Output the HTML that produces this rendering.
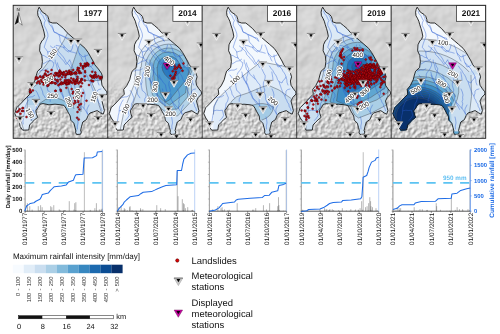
<!DOCTYPE html><html><head><meta charset="utf-8"><title>Rainfall maps</title><style>html,body{margin:0;padding:0;background:#fff;}svg{display:block;opacity:0.999;}text{text-rendering:geometricPrecision;}</style></head><body><svg width="500" height="334" viewBox="0 0 500 334" font-family='"Liberation Sans", sans-serif'>
<defs>
<path id="basin" d="M26.2,2.2 L27.4,4.2 L29.4,7.2 L33.0,9.4 L34.8,11.4 L35.8,14.4 L36.0,16.8 L39.6,18.0 L43.8,18.0 L46.8,20.4 L50.6,23.6 L54.2,27.8 L59.0,32.0 L63.2,35.6 L67.4,39.2 L72.2,43.4 L75.2,47.6 L77.6,51.8 L80.0,56.0 L81.8,59.8 L85.4,64.0 L88.4,68.2 L89.6,71.8 L88.4,76.0 L89.0,80.2 L91.4,83.8 L93.8,86.8 L94.0,89.0 L90.8,92.4 L89.0,96.0 L90.2,100.8 L91.4,105.6 L90.2,109.2 L87.8,108.0 L84.2,105.6 L80.6,106.8 L77.0,108.0 L75.2,110.4 L73.4,114.6 L69.8,117.0 L68.6,121.2 L67.6,125.6 L68.3,127.0 L67.6,129.2 L63.6,129.5 L62.5,127.2 L62.9,126.0 L62.0,122.4 L60.8,118.2 L57.8,115.2 L57.2,111.0 L54.8,106.8 L53.0,103.2 L51.0,100.4 L48.0,99.8 L42.0,99.2 L36.0,99.8 L30.0,98.6 L27.0,99.2 L25.2,102.2 L22.8,105.8 L23.4,108.8 L24.6,112.4 L21.6,114.8 L19.2,117.2 L16.6,120.0 L15.8,125.0 L9.7,125.2 L7.1,121.5 L6.2,116.5 L3.8,113.0 L1.8,108.6 L3.6,102.8 L8.4,98.0 L13.2,92.8 L16.8,89.2 L16.2,84.4 L19.2,80.8 L22.2,74.8 L23.4,70.0 L24.6,66.2 L28.6,62.6 L29.4,56.6 L28.8,50.6 L26.6,45.8 L27.0,39.8 L28.8,36.0 L30.6,34.2 L31.8,31.2 L31.0,27.0 L30.0,23.4 L28.8,19.8 L27.8,16.2 L26.4,13.2 L25.0,10.8 L24.6,7.2 L25.2,4.2Z"/>
<clipPath id="bc"><use href="#basin"/></clipPath>
<clipPath id="pc"><rect x="0" y="0" width="94.5" height="133.0"/></clipPath>
<path id="riv" d="M27.0,6.0 L28.1,8.7 L30.0,10.8 L31.1,13.3 L32.4,15.6 L31.3,17.9 L31.2,20.4 L33.0,24.0 L34.0,26.4 L34.8,28.8 L35.0,31.3 L34.2,33.6 L33.2,36.0 L32.4,38.4 L31.2,42.2 L33.1,44.5 L34.8,47.0 L35.0,50.1 L36.0,53.0 L37.5,54.7 L38.9,56.5 L40.8,57.8 L40.6,60.3 L39.6,62.6 L38.2,65.3 L36.0,67.4 L35.2,69.8 L35.3,72.3 L34.2,74.6 L34.6,77.3 L33.6,79.6 L34.1,82.6 L34.8,85.6 L36.9,87.1 L38.4,89.2 L38.5,91.7 L37.2,93.9 L37.2,96.4 M32.4,10.2 L33.6,12.3 L34.2,14.7 L35.4,16.8 L36.6,19.4 L38.4,21.6 L40.0,23.8 L40.8,26.4 L43.0,28.2 L45.6,29.4 L47.9,30.6 L50.4,31.2 L54.0,33.6 L56.4,36.0 M38.6,20.0 L39.7,22.3 L40.2,24.8 L41.0,27.2 L43.6,27.7 L45.7,29.3 L48.2,30.2 L50.4,31.6 L52.8,32.7 L55.4,33.2 L56.6,36.2 M43.4,40.4 L46.2,40.9 L48.9,42.0 L51.8,42.2 L53.8,43.8 L55.4,45.8 L57.9,46.8 L60.6,47.4 L63.2,48.2 M37.4,41.0 L39.9,43.0 L42.2,45.2 L44.0,46.9 L44.6,49.5 L46.4,51.2 L48.4,53.7 L50.6,56.0 L53.0,59.6 L54.9,57.4 L56.6,55.0 M56.6,55.0 L57.8,57.3 L58.3,59.8 L59.6,62.1 L60.2,64.6 L61.1,66.6 L62.1,68.6 L63.2,70.6 L63.1,73.1 L62.4,75.5 L61.4,77.8 L61.3,80.3 L62.0,82.7 L62.8,85.0 L62.2,87.6 L63.5,89.9 L63.4,92.4 L63.8,94.8 L65.1,97.1 L66.0,99.7 L67.4,102.0 L68.6,104.4 M67.4,61.0 L69.0,63.4 L70.9,65.6 L72.2,68.2 L73.7,70.1 L74.8,72.3 L75.5,74.6 L77.0,76.6 L77.7,79.0 L78.6,81.4 L79.4,83.8 L80.4,86.3 L81.4,88.8 L83.0,91.0 L83.4,93.2 L84.7,95.1 L85.4,97.2 L86.8,99.1 L87.2,101.4 L88.4,103.4 L89.0,105.6 M69.8,67.0 L70.3,69.8 L70.8,72.6 L71.0,75.4 M42.2,55.0 L42.3,57.5 L43.5,59.8 L43.9,62.2 L44.6,64.6 L46.7,66.8 L48.2,69.4 L49.7,71.1 L51.5,72.5 L53.0,74.2 M39.8,67.0 L40.5,69.5 L41.4,71.9 L42.5,74.3 L43.5,76.6 L44.6,79.0 L45.7,81.3 L46.6,83.7 L47.0,86.2 L48.3,88.6 L49.7,90.9 L50.6,93.4 L52.5,94.6 L54.2,96.0 L55.9,98.5 L57.8,100.8 M65.0,97.2 L67.1,99.1 L68.8,101.4 L71.0,103.2 L72.2,105.2 L73.5,107.1 L74.6,109.2 M34.8,47.0 L37.2,46.3 L39.6,45.8 L40.5,43.2 L42.0,41.0 M30.0,59.0 L32.3,57.7 L34.6,56.2 L37.4,55.8 L39.6,54.2 M43.2,42.2 L44.4,44.9 L46.1,47.2 L48.0,49.4 L50.0,51.6 L51.6,53.9 L52.8,56.6 L54.5,58.5 L56.4,60.3 L57.6,62.6 M50.4,42.2 L51.6,44.2 L53.4,45.6 L55.2,47.0 M44.4,57.8 L45.2,61.0 L46.8,63.8 L46.0,66.8 L45.6,69.8 L44.7,72.2 L45.0,74.8 L44.4,77.2 L45.5,79.2 L46.2,81.4 L47.0,83.6 L48.0,85.6 L49.1,87.6 L49.8,89.8 L50.5,92.0 L51.6,94.0 L53.0,96.7 L55.2,98.8 M26.4,66.2 L29.1,65.1 L32.1,65.1 L34.8,63.8 M27.6,82.0 L28.6,84.3 L29.6,86.7 L30.0,89.2 L32.4,92.8 M22.8,85.6 L24.3,87.8 L25.3,90.3 L26.4,92.8 L25.7,96.0 L24.0,98.8 L23.7,101.9 L22.8,104.8 M12.0,94.0 L14.2,92.7 L16.7,92.0 L19.4,91.8 L21.6,90.4 M15.6,95.0 L14.1,97.3 L13.1,99.7 L12.0,102.2 L11.7,105.0 L11.5,107.8 L10.8,110.6 L10.4,113.4 L9.9,116.2 L10.2,119.0 M12.0,105.8 L14.8,105.2 L17.6,105.5 L20.4,105.2 L21.1,107.9 L21.6,110.6 L20.0,113.1 L18.0,115.4 M29.0,50.0 L31.2,50.7 L33.0,52.0 L36.0,53.0 M46.0,30.0 L46.9,32.9 L47.0,36.0 L48.3,38.3 L50.4,40.0 L51.8,42.2 M60.0,40.0 L59.3,43.1 L58.0,46.0 L55.4,45.8 M75.0,50.0 L72.5,51.1 L70.0,52.0 L68.0,50.0 L66.0,48.0 M80.0,60.0 L78.2,61.4 L76.0,62.0 L75.1,59.9 L74.0,58.0 M84.0,72.0 L82.8,74.1 L80.9,75.7 L80.0,78.0 L77.0,76.6 M88.0,84.0 L85.8,84.5 L84.0,86.0 L83.9,88.6 L83.0,91.0 M70.0,84.0 L71.3,86.9 L72.0,90.0 L71.6,92.2 L71.8,94.4 L71.1,96.6 L71.8,98.8 L71.1,101.0 L71.0,103.2 M40.0,70.0 L40.9,72.5 L42.0,75.0 L43.5,76.9 L44.6,79.0 M28.0,70.0 L29.5,72.0 L31.0,74.0 L32.7,76.6 L33.6,79.6 M55.0,84.0 L55.5,87.2 L57.0,90.0 L57.4,92.7 L57.2,95.4 L57.3,98.1 L57.8,100.8 M76.0,100.0 L75.0,102.0 L74.0,104.0 L73.9,106.6 L74.6,109.2 M64.0,112.0 L64.7,115.0 L65.0,118.0 L64.3,121.0 L64.5,124.0 M51.6,70.0 L52.6,72.5 L54.0,74.8 L55.8,77.5 L58.0,80.0 L58.4,82.7 L59.0,85.4 L60.0,88.0 M72.0,50.0 L72.3,52.8 L73.1,55.4 L74.0,58.0 L76.3,59.7 L78.0,62.0 L80.0,64.0 L80.8,66.1 L82.2,67.9 L83.3,69.8 L84.0,72.0 L84.8,74.6 L85.0,77.4 L86.0,80.0 M63.0,40.0 L64.3,42.6 L65.2,45.3 L66.0,48.0 L66.7,50.1 L68.2,51.9 L68.9,54.1 L70.0,56.0" fill="none" stroke="#2a5bd2" stroke-width="0.42" stroke-linejoin="round" stroke-linecap="round"/>
<filter id="hs" x="0" y="0" width="100%" height="100%" color-interpolation-filters="sRGB">
<feTurbulence type="fractalNoise" baseFrequency="0.3 0.26" numOctaves="3" seed="3" result="n"/>
<feDiffuseLighting in="n" surfaceScale="1.0" diffuseConstant="1.07" lighting-color="#fff" result="l"><feDistantLight azimuth="225" elevation="50"/></feDiffuseLighting>
</filter>
<filter id="hs2" x="0" y="0" width="100%" height="100%" color-interpolation-filters="sRGB">
<feTurbulence type="fractalNoise" baseFrequency="0.05" numOctaves="3" seed="8" result="n"/>
<feDiffuseLighting in="n" surfaceScale="2.2" diffuseConstant="1.0" lighting-color="#fff" result="l"><feDistantLight azimuth="225" elevation="55"/></feDiffuseLighting>
</filter>
<linearGradient id="mg" x1="0" y1="0" x2="0" y2="1"><stop offset="0" stop-color="#000"/><stop offset="0.55" stop-color="#000"/><stop offset="0.78" stop-color="#fff"/><stop offset="1" stop-color="#fff"/></linearGradient>
<mask id="south" maskUnits="userSpaceOnUse" x="0" y="0" width="500" height="140"><rect x="0" y="0" width="500" height="140" fill="#000"/><rect x="13" y="5" width="473" height="133" fill="url(#mg)"/></mask>

</defs>
<rect width="500" height="334" fill="#fff"/>
<rect x="13.2" y="5.3" width="472.5" height="133.0" fill="#d6d6d6"/>
<rect x="13.2" y="5.3" width="472.5" height="133.0" filter="url(#hs2)" opacity="0.28"/>
<g mask="url(#south)"><rect x="13.2" y="5.3" width="472.5" height="133.0" fill="#c6c6c6"/><rect x="13.2" y="5.3" width="472.5" height="133.0" filter="url(#hs)" opacity="0.85"/></g>
<g transform="translate(13.2,5.3)" clip-path="url(#pc)"><g transform="translate(-0.2,-0.3)">
<g clip-path="url(#bc)"><rect x="0" y="0" width="94.5" height="133.0" fill="#dce9f6"/><path d="M55,27 Q47,45 36,56 Q28,68 10,84 L0,100 L0,133 L95,133 L95,27Z" fill="#c8dcef"/><path d="M67,38 Q62,52 58,64 Q62,72 70,75 Q80,77 95,74 L95,38Z" fill="#a5c9e3"/><path d="M14,88 Q26,76 36,73 Q50,69 58,64 Q64,72 66,79 Q69,92 68,107 L64,127 L58,127 L56,100 L14,100Z" fill="#b0d0e8"/><path d="M26,99 Q32,93 40,93 Q50,93 56,100 L56,108 L50,100 L30,99Z" fill="#8fc0dd"/><path d="M52,72 Q57,88 61,104 L64,126 L58,126 L56,100 Q54,88 48,74Z" fill="#a8cbe5"/><path d="M78,76 Q84,86 86,100 L90,112 L95,112 L95,76Z" fill="#dce9f6"/><path d="M0,88 L14,88 Q15,96 14,104 Q15,110 19,116 L19,133 L0,133Z" fill="#dce9f6"/><path d="M0,100 L5,100 Q6,112 11,126 L11,133 L0,133Z" fill="#e8f1fa"/><path d="M55,27 Q47,45 36,56 Q28,68 10,84" stroke="#48505a" stroke-width="0.48" fill="none"/><path d="M67,38 Q62,52 58,64 Q50,69 36,73 Q26,76 14,88 Q15,96 14,104 Q15,110 19,116" stroke="#48505a" stroke-width="0.48" fill="none"/><path d="M58,64 Q62,72 70,75 Q80,77 95,74" stroke="#48505a" stroke-width="0.48" fill="none"/><path d="M58,64 Q64,72 66,79 Q69,92 68,107" stroke="#48505a" stroke-width="0.48" fill="none"/><path d="M26,99 Q32,93 40,93 Q50,93 56,100" stroke="#48505a" stroke-width="0.48" fill="none"/><path d="M52,72 Q57,88 61,104" stroke="#48505a" stroke-width="0.48" fill="none"/><path d="M78,76 Q84,86 86,100 L90,112" stroke="#48505a" stroke-width="0.48" fill="none"/><path d="M5,100 Q6,112 11,126" stroke="#48505a" stroke-width="0.48" fill="none"/><use href="#riv"/></g>
<use href="#basin" fill="none" stroke="#1a1a1a" stroke-width="0.9" stroke-linejoin="round"/>
<g fill="#c00a12" stroke="#4e0005" stroke-width="0.42"><circle cx="49.5" cy="69.1" r="1.0"/><circle cx="49.7" cy="67.9" r="1.0"/><circle cx="42.7" cy="68.5" r="1.0"/><circle cx="63.1" cy="68.1" r="1.0"/><circle cx="62.4" cy="67.8" r="1.0"/><circle cx="56.0" cy="68.2" r="1.0"/><circle cx="35.5" cy="70.6" r="1.0"/><circle cx="57.1" cy="68.6" r="1.0"/><circle cx="34.9" cy="66.8" r="1.0"/><circle cx="43.1" cy="68.1" r="1.0"/><circle cx="55.0" cy="67.9" r="1.0"/><circle cx="57.1" cy="66.9" r="1.0"/><circle cx="55.1" cy="68.6" r="1.0"/><circle cx="45.6" cy="71.2" r="1.0"/><circle cx="57.7" cy="69.6" r="1.0"/><circle cx="45.7" cy="67.5" r="1.0"/><circle cx="48.6" cy="68.3" r="1.0"/><circle cx="58.3" cy="68.1" r="1.0"/><circle cx="47.4" cy="67.1" r="1.0"/><circle cx="46.9" cy="70.4" r="1.0"/><circle cx="44.0" cy="69.1" r="1.0"/><circle cx="56.1" cy="65.7" r="1.0"/><circle cx="52.6" cy="70.1" r="1.0"/><circle cx="31.9" cy="69.1" r="1.0"/><circle cx="50.9" cy="67.1" r="1.0"/><circle cx="57.0" cy="67.8" r="1.0"/><circle cx="37.5" cy="70.5" r="1.0"/><circle cx="58.8" cy="69.1" r="1.0"/><circle cx="66.4" cy="67.7" r="1.0"/><circle cx="53.1" cy="66.2" r="1.0"/><circle cx="58.1" cy="66.9" r="1.0"/><circle cx="47.4" cy="66.6" r="1.0"/><circle cx="42.3" cy="68.1" r="1.0"/><circle cx="64.6" cy="64.3" r="1.0"/><circle cx="37.5" cy="69.6" r="1.0"/><circle cx="66.5" cy="68.1" r="1.0"/><circle cx="32.8" cy="65.8" r="1.0"/><circle cx="55.5" cy="66.8" r="1.0"/><circle cx="40.9" cy="70.4" r="1.0"/><circle cx="63.0" cy="67.7" r="1.0"/><circle cx="54.5" cy="68.7" r="1.0"/><circle cx="68.0" cy="68.0" r="1.0"/><circle cx="57.2" cy="68.7" r="1.0"/><circle cx="36.5" cy="71.2" r="1.0"/><circle cx="61.6" cy="68.3" r="1.0"/><circle cx="32.2" cy="68.6" r="1.0"/><circle cx="60.2" cy="64.9" r="1.0"/><circle cx="50.3" cy="69.9" r="1.0"/><circle cx="39.1" cy="71.5" r="1.0"/><circle cx="57.5" cy="67.6" r="1.0"/><circle cx="55.3" cy="68.9" r="1.0"/><circle cx="53.3" cy="69.8" r="1.0"/><circle cx="45.4" cy="68.0" r="1.0"/><circle cx="62.4" cy="67.5" r="1.0"/><circle cx="43.3" cy="70.2" r="1.0"/><circle cx="66.6" cy="66.5" r="1.0"/><circle cx="38.2" cy="69.0" r="1.0"/><circle cx="50.5" cy="67.9" r="1.0"/><circle cx="65.9" cy="65.7" r="1.0"/><circle cx="64.4" cy="65.4" r="1.0"/><circle cx="44.2" cy="69.7" r="1.0"/><circle cx="63.3" cy="68.7" r="1.0"/><circle cx="55.5" cy="68.2" r="1.0"/><circle cx="53.6" cy="69.0" r="1.0"/><circle cx="50.3" cy="68.7" r="1.0"/><circle cx="57.7" cy="67.8" r="1.0"/><circle cx="59.7" cy="68.5" r="1.0"/><circle cx="72.1" cy="67.3" r="1.0"/><circle cx="47.7" cy="67.9" r="1.0"/><circle cx="52.0" cy="69.6" r="1.0"/><circle cx="50.7" cy="77.9" r="1.0"/><circle cx="71.9" cy="71.3" r="1.0"/><circle cx="42.8" cy="78.4" r="1.0"/><circle cx="58.0" cy="77.0" r="1.0"/><circle cx="49.8" cy="78.4" r="1.0"/><circle cx="56.7" cy="75.9" r="1.0"/><circle cx="78.3" cy="75.4" r="1.0"/><circle cx="48.5" cy="77.3" r="1.0"/><circle cx="51.7" cy="77.1" r="1.0"/><circle cx="26.8" cy="78.6" r="1.0"/><circle cx="63.9" cy="74.3" r="1.0"/><circle cx="53.5" cy="78.6" r="1.0"/><circle cx="62.7" cy="78.6" r="1.0"/><circle cx="37.0" cy="77.9" r="1.0"/><circle cx="50.7" cy="78.3" r="1.0"/><circle cx="64.5" cy="71.8" r="1.0"/><circle cx="64.6" cy="73.7" r="1.0"/><circle cx="60.6" cy="74.0" r="1.0"/><circle cx="55.9" cy="78.8" r="1.0"/><circle cx="52.5" cy="77.4" r="1.0"/><circle cx="62.0" cy="76.5" r="1.0"/><circle cx="53.3" cy="79.5" r="1.0"/><circle cx="64.4" cy="75.6" r="1.0"/><circle cx="81.2" cy="72.8" r="1.0"/><circle cx="63.1" cy="75.8" r="1.0"/><circle cx="55.4" cy="78.0" r="1.0"/><circle cx="56.3" cy="77.8" r="1.0"/><circle cx="38.6" cy="75.9" r="1.0"/><circle cx="60.0" cy="74.9" r="1.0"/><circle cx="43.6" cy="75.6" r="1.0"/><circle cx="66.7" cy="77.1" r="1.0"/><circle cx="68.5" cy="74.2" r="1.0"/><circle cx="53.9" cy="75.2" r="1.0"/><circle cx="61.9" cy="78.9" r="1.0"/><circle cx="45.3" cy="80.3" r="1.0"/><circle cx="63.8" cy="75.9" r="1.0"/><circle cx="34.6" cy="81.0" r="1.0"/><circle cx="53.0" cy="76.1" r="1.0"/><circle cx="58.0" cy="77.3" r="1.0"/><circle cx="68.8" cy="74.1" r="1.0"/><circle cx="65.5" cy="78.4" r="1.0"/><circle cx="68.4" cy="75.4" r="1.0"/><circle cx="46.7" cy="79.3" r="1.0"/><circle cx="55.2" cy="77.1" r="1.0"/><circle cx="68.2" cy="75.3" r="1.0"/><circle cx="31.1" cy="78.4" r="1.0"/><circle cx="35.6" cy="79.9" r="1.0"/><circle cx="57.1" cy="75.7" r="1.0"/><circle cx="54.0" cy="78.3" r="1.0"/><circle cx="55.0" cy="79.0" r="1.0"/><circle cx="53.5" cy="78.7" r="1.0"/><circle cx="69.1" cy="78.3" r="1.0"/><circle cx="47.4" cy="79.0" r="1.0"/><circle cx="35.2" cy="76.9" r="1.0"/><circle cx="34.6" cy="80.4" r="1.0"/><circle cx="41.7" cy="78.1" r="1.0"/><circle cx="52.1" cy="77.1" r="1.0"/><circle cx="48.1" cy="77.9" r="1.0"/><circle cx="71.9" cy="75.5" r="1.0"/><circle cx="59.4" cy="78.1" r="1.0"/><circle cx="51.9" cy="75.2" r="1.0"/><circle cx="48.6" cy="79.2" r="1.0"/><circle cx="37.5" cy="77.5" r="1.0"/><circle cx="64.1" cy="77.4" r="1.0"/><circle cx="54.2" cy="78.3" r="1.0"/><circle cx="55.5" cy="75.0" r="1.0"/><circle cx="38.3" cy="77.3" r="1.0"/><circle cx="63.1" cy="75.3" r="1.0"/><circle cx="44.9" cy="76.6" r="1.0"/><circle cx="38.7" cy="78.1" r="1.0"/><circle cx="42.3" cy="78.6" r="1.0"/><circle cx="30.5" cy="79.6" r="1.0"/><circle cx="47.3" cy="74.5" r="1.0"/><circle cx="61.2" cy="75.9" r="1.0"/><circle cx="31.7" cy="77.5" r="1.0"/><circle cx="56.8" cy="76.0" r="1.0"/><circle cx="61.9" cy="77.5" r="1.0"/><circle cx="60.7" cy="76.9" r="1.0"/><circle cx="67.4" cy="76.9" r="1.0"/><circle cx="58.2" cy="73.3" r="1.0"/><circle cx="41.9" cy="74.3" r="1.0"/><circle cx="34.0" cy="71.2" r="1.0"/><circle cx="46.7" cy="65.6" r="1.0"/><circle cx="39.8" cy="77.5" r="1.0"/><circle cx="30.8" cy="74.7" r="1.0"/><circle cx="47.1" cy="69.7" r="1.0"/><circle cx="39.7" cy="73.6" r="1.0"/><circle cx="30.6" cy="72.7" r="1.0"/><circle cx="38.1" cy="73.7" r="1.0"/><circle cx="35.7" cy="71.6" r="1.0"/><circle cx="29.8" cy="72.2" r="1.0"/><circle cx="41.3" cy="71.3" r="1.0"/><circle cx="30.6" cy="70.8" r="1.0"/><circle cx="52.3" cy="72.0" r="1.0"/><circle cx="38.6" cy="65.0" r="1.0"/><circle cx="39.9" cy="72.5" r="1.0"/><circle cx="46.1" cy="71.3" r="1.0"/><circle cx="35.8" cy="73.4" r="1.0"/><circle cx="25.0" cy="76.6" r="1.0"/><circle cx="37.6" cy="69.9" r="1.0"/><circle cx="44.6" cy="75.1" r="1.0"/><circle cx="27.4" cy="71.8" r="1.0"/><circle cx="37.8" cy="72.1" r="1.0"/><circle cx="33.2" cy="70.0" r="1.0"/><circle cx="49.0" cy="72.3" r="1.0"/><circle cx="67.9" cy="60.4" r="1.0"/><circle cx="79.7" cy="58.3" r="1.0"/><circle cx="80.0" cy="57.9" r="1.0"/><circle cx="70.0" cy="61.8" r="1.0"/><circle cx="64.8" cy="62.8" r="1.0"/><circle cx="73.1" cy="60.7" r="1.0"/><circle cx="70.3" cy="61.1" r="1.0"/><circle cx="74.9" cy="59.7" r="1.0"/><circle cx="75.4" cy="59.2" r="1.0"/><circle cx="72.3" cy="61.5" r="1.0"/><circle cx="72.7" cy="58.9" r="1.0"/><circle cx="70.7" cy="61.1" r="1.0"/><circle cx="72.7" cy="60.4" r="1.0"/><circle cx="73.1" cy="60.2" r="1.0"/><circle cx="71.8" cy="58.7" r="1.0"/><circle cx="75.1" cy="60.5" r="1.0"/><circle cx="74.5" cy="59.0" r="1.0"/><circle cx="74.1" cy="58.1" r="1.0"/><circle cx="66.2" cy="63.3" r="1.0"/><circle cx="70.0" cy="62.4" r="1.0"/><circle cx="67.6" cy="58.7" r="1.0"/><circle cx="70.1" cy="63.6" r="1.0"/><circle cx="79.2" cy="66.7" r="1.0"/><circle cx="78.3" cy="71.3" r="1.0"/><circle cx="81.1" cy="70.4" r="1.0"/><circle cx="83.3" cy="71.7" r="1.0"/><circle cx="80.0" cy="71.4" r="1.0"/><circle cx="83.6" cy="72.3" r="1.0"/><circle cx="82.3" cy="67.4" r="1.0"/><circle cx="79.7" cy="71.8" r="1.0"/><circle cx="79.3" cy="72.6" r="1.0"/><circle cx="81.3" cy="72.2" r="1.0"/><circle cx="79.5" cy="76.1" r="1.0"/><circle cx="82.7" cy="69.5" r="1.0"/><circle cx="80.2" cy="76.2" r="1.0"/><circle cx="79.2" cy="72.1" r="1.0"/><circle cx="82.2" cy="70.0" r="1.0"/><circle cx="77.4" cy="70.5" r="1.0"/><circle cx="87.5" cy="73.7" r="1.0"/><circle cx="88.2" cy="72.0" r="1.0"/><circle cx="88.3" cy="72.8" r="1.0"/><circle cx="87.3" cy="72.1" r="1.0"/><circle cx="86.6" cy="73.0" r="1.0"/><circle cx="85.4" cy="71.1" r="1.0"/><circle cx="24.9" cy="73.0" r="1.0"/><circle cx="22.9" cy="72.4" r="1.0"/><circle cx="23.9" cy="78.1" r="1.0"/><circle cx="28.1" cy="75.1" r="1.0"/><circle cx="24.1" cy="73.4" r="1.0"/><circle cx="33.3" cy="74.6" r="1.0"/><circle cx="29.4" cy="72.7" r="1.0"/><circle cx="23.9" cy="72.5" r="1.0"/><circle cx="29.6" cy="76.9" r="1.0"/><circle cx="27.0" cy="71.5" r="1.0"/><circle cx="22.6" cy="74.0" r="1.0"/><circle cx="26.3" cy="76.5" r="1.0"/><circle cx="28.9" cy="76.6" r="1.0"/><circle cx="32.5" cy="76.4" r="1.0"/><circle cx="17.8" cy="87.2" r="1.0"/><circle cx="17.6" cy="84.5" r="1.0"/><circle cx="17.3" cy="87.3" r="1.0"/><circle cx="17.2" cy="86.6" r="1.0"/><circle cx="19.9" cy="85.4" r="1.0"/><circle cx="17.2" cy="86.7" r="1.0"/><circle cx="63.7" cy="88.4" r="1.0"/><circle cx="61.9" cy="95.8" r="1.0"/><circle cx="65.1" cy="102.3" r="1.0"/><circle cx="62.8" cy="92.0" r="1.0"/><circle cx="62.4" cy="97.5" r="1.0"/><circle cx="66.3" cy="100.1" r="1.0"/><circle cx="59.7" cy="88.5" r="1.0"/><circle cx="61.3" cy="92.8" r="1.0"/><circle cx="58.0" cy="97.2" r="1.0"/><circle cx="60.8" cy="98.7" r="1.0"/><circle cx="65.4" cy="95.1" r="1.0"/><circle cx="73.5" cy="95.7" r="1.0"/><circle cx="68.0" cy="98.9" r="1.0"/><circle cx="68.0" cy="81.4" r="1.0"/><circle cx="59.6" cy="99.7" r="1.0"/><circle cx="65.7" cy="114.4" r="1.0"/><circle cx="64.5" cy="107.0" r="1.0"/><circle cx="66.4" cy="104.6" r="1.0"/><circle cx="65.3" cy="96.9" r="1.0"/><circle cx="65.3" cy="90.5" r="1.0"/><circle cx="68.3" cy="90.9" r="1.0"/><circle cx="64.1" cy="112.8" r="1.0"/><circle cx="5.4" cy="106.1" r="1.0"/><circle cx="8.9" cy="106.1" r="1.0"/><circle cx="4.0" cy="107.0" r="1.0"/><circle cx="7.5" cy="108.8" r="1.0"/><circle cx="4.1" cy="113.0" r="1.0"/><circle cx="10.2" cy="106.1" r="1.0"/><circle cx="6.7" cy="104.3" r="1.0"/><circle cx="9.5" cy="103.2" r="1.0"/><circle cx="53.4" cy="82.8" r="1.0"/><circle cx="42.4" cy="85.8" r="1.0"/><circle cx="58.7" cy="84.0" r="1.0"/><circle cx="42.6" cy="86.0" r="1.0"/><circle cx="47.6" cy="84.8" r="1.0"/><circle cx="60.2" cy="86.8" r="1.0"/><circle cx="43.8" cy="89.7" r="1.0"/><circle cx="48.0" cy="86.0" r="1.0"/><circle cx="13.5" cy="112.0" r="1.0"/><circle cx="10.0" cy="103.0" r="1.0"/><circle cx="72.0" cy="66.0" r="1.0"/><circle cx="76.0" cy="80.0" r="1.0"/><circle cx="70.0" cy="88.0" r="1.0"/></g>
<path d="M54.0,34.0 L62.0,34.0 L58.0,40.9Z" fill="#dcdcdc" stroke="#fbfbfb" stroke-width="0.7" stroke-linejoin="round"/><path d="M54.8,34.7 L61.2,34.7 L58.0,39.9Z" fill="#c4c4c4"/><path d="M53.8,34.0 L62.2,34.0" stroke="#555" stroke-width="0.7" fill="none"/><path d="M56.2,34.9 L59.8,34.9 L58.0,37.8Z" fill="#000"/>
<path d="M61.0,34.0 L69.0,34.0 L65.0,40.9Z" fill="#dcdcdc" stroke="#fbfbfb" stroke-width="0.7" stroke-linejoin="round"/><path d="M61.8,34.7 L68.2,34.7 L65.0,39.9Z" fill="#c4c4c4"/><path d="M60.8,34.0 L69.2,34.0" stroke="#555" stroke-width="0.7" fill="none"/><path d="M63.2,34.9 L66.8,34.9 L65.0,37.8Z" fill="#000"/>
<path d="M81.0,44.4 L89.0,44.4 L85.0,51.3Z" fill="#dcdcdc" stroke="#fbfbfb" stroke-width="0.7" stroke-linejoin="round"/><path d="M81.8,45.1 L88.2,45.1 L85.0,50.3Z" fill="#c4c4c4"/><path d="M80.8,44.4 L89.2,44.4" stroke="#555" stroke-width="0.7" fill="none"/><path d="M83.2,45.3 L86.8,45.3 L85.0,48.2Z" fill="#000"/>
<path d="M2.0,51.8 L10.0,51.8 L6.0,58.7Z" fill="#dcdcdc" stroke="#fbfbfb" stroke-width="0.7" stroke-linejoin="round"/><path d="M2.8,52.5 L9.2,52.5 L6.0,57.7Z" fill="#c4c4c4"/><path d="M1.8,51.8 L10.2,51.8" stroke="#555" stroke-width="0.7" fill="none"/><path d="M4.2,52.7 L7.8,52.7 L6.0,55.6Z" fill="#000"/>
<path d="M14.6,77.6 L22.6,77.6 L18.6,84.5Z" fill="#dcdcdc" stroke="#fbfbfb" stroke-width="0.7" stroke-linejoin="round"/><path d="M15.4,78.3 L21.8,78.3 L18.6,83.5Z" fill="#c4c4c4"/><path d="M14.4,77.6 L22.8,77.6" stroke="#555" stroke-width="0.7" fill="none"/><path d="M16.9,78.5 L20.4,78.5 L18.6,81.4Z" fill="#000"/>
<path d="M19.0,94.4 L27.0,94.4 L23.0,101.3Z" fill="#dcdcdc" stroke="#fbfbfb" stroke-width="0.7" stroke-linejoin="round"/><path d="M19.8,95.1 L26.2,95.1 L23.0,100.3Z" fill="#c4c4c4"/><path d="M18.8,94.4 L27.2,94.4" stroke="#555" stroke-width="0.7" fill="none"/><path d="M21.2,95.3 L24.8,95.3 L23.0,98.2Z" fill="#000"/>
<path d="M34.0,106.4 L42.0,106.4 L38.0,113.3Z" fill="#dcdcdc" stroke="#fbfbfb" stroke-width="0.7" stroke-linejoin="round"/><path d="M34.8,107.1 L41.2,107.1 L38.0,112.3Z" fill="#c4c4c4"/><path d="M33.8,106.4 L42.2,106.4" stroke="#555" stroke-width="0.7" fill="none"/><path d="M36.2,107.3 L39.8,107.3 L38.0,110.2Z" fill="#000"/>
<path d="M3.0,111.4 L11.0,111.4 L7.0,118.3Z" fill="#dcdcdc" stroke="#fbfbfb" stroke-width="0.7" stroke-linejoin="round"/><path d="M3.8,112.1 L10.2,112.1 L7.0,117.3Z" fill="#c4c4c4"/><path d="M2.8,111.4 L11.2,111.4" stroke="#555" stroke-width="0.7" fill="none"/><path d="M5.2,112.3 L8.8,112.3 L7.0,115.2Z" fill="#000"/>
<path d="M81.0,111.4 L89.0,111.4 L85.0,118.3Z" fill="#dcdcdc" stroke="#fbfbfb" stroke-width="0.7" stroke-linejoin="round"/><path d="M81.8,112.1 L88.2,112.1 L85.0,117.3Z" fill="#c4c4c4"/><path d="M80.8,111.4 L89.2,111.4" stroke="#555" stroke-width="0.7" fill="none"/><path d="M83.2,112.3 L86.8,112.3 L85.0,115.2Z" fill="#000"/>
<path d="M85.0,89.4 L93.0,89.4 L89.0,96.3Z" fill="#dcdcdc" stroke="#fbfbfb" stroke-width="0.7" stroke-linejoin="round"/><path d="M85.8,90.1 L92.2,90.1 L89.0,95.3Z" fill="#c4c4c4"/><path d="M84.8,89.4 L93.2,89.4" stroke="#555" stroke-width="0.7" fill="none"/><path d="M87.2,90.3 L90.8,90.3 L89.0,93.2Z" fill="#000"/>
<text x="39.5" y="49" transform="rotate(-55 39.5 49)" text-anchor="middle" font-size="6.3" stroke="#fff" stroke-width="2.0" stroke-linejoin="round" paint-order="stroke" fill="#111" dy="2.2">150</text><text x="35.5" y="74.5" transform="rotate(-28 35.5 74.5)" text-anchor="middle" font-size="6.3" stroke="#fff" stroke-width="2.0" stroke-linejoin="round" paint-order="stroke" fill="#111" dy="2.2">200</text><text x="39.5" y="90.5" transform="rotate(0 39.5 90.5)" text-anchor="middle" font-size="6.3" stroke="#fff" stroke-width="2.0" stroke-linejoin="round" paint-order="stroke" fill="#111" dy="2.2">250</text><text x="56" y="97" transform="rotate(68 56 97)" text-anchor="middle" font-size="6.3" stroke="#fff" stroke-width="2.0" stroke-linejoin="round" paint-order="stroke" fill="#111" dy="2.2">250</text><text x="64.5" y="89" transform="rotate(-85 64.5 89)" text-anchor="middle" font-size="6.3" stroke="#fff" stroke-width="2.0" stroke-linejoin="round" paint-order="stroke" fill="#111" dy="2.2">200</text><text x="81" y="92" transform="rotate(-70 81 92)" text-anchor="middle" font-size="6.3" stroke="#fff" stroke-width="2.0" stroke-linejoin="round" paint-order="stroke" fill="#111" dy="2.2">150</text><text x="17" y="108" transform="rotate(62 17 108)" text-anchor="middle" font-size="6.3" stroke="#fff" stroke-width="2.0" stroke-linejoin="round" paint-order="stroke" fill="#111" dy="2.2">150</text>
</g>
<rect x="65.2" y="0" width="29.299999999999997" height="16" fill="#fff" stroke="#222" stroke-width="0.7"/>
<text x="79.8" y="11.1" text-anchor="middle" font-weight="bold" font-size="8.3" fill="#111">1977</text>
</g>
<g transform="translate(107.7,5.3)" clip-path="url(#pc)"><g transform="translate(-0.2,-0.3)">
<g clip-path="url(#bc)"><rect x="0" y="0" width="94.5" height="133.0" fill="#f1f6fc"/><circle cx="61.2" cy="62.4" r="32" fill="#e3eef9"/><path d="M28.5,62 L26.5,80 L17,104 L11,133 L95,133 L95,62Z" fill="#e3eef9"/><circle cx="61.2" cy="62.4" r="27.5" fill="#d0e1f2"/><path d="M33,62 L31.5,80 L25,100 L21,133 L95,133 L95,62Z" fill="#d0e1f2"/><circle cx="61.2" cy="62.4" r="23.3" fill="#b5d4e9"/><path d="M37.5,62 L38.5,80 L40,90 L44,96 L62,110 L70,111 L84,96 L84,75 L90,62Z" fill="#b5d4e9"/><circle cx="61.2" cy="62.4" r="19.4" fill="#8fc2de"/><path d="M41.5,62 L43,80 L45,90 L50,95 L62,104.5 L70,104 L80,92 L81,74 L86,62Z" fill="#8fc2de"/><circle cx="61.2" cy="62.4" r="15.6" fill="#6aaed6"/><path d="M45.5,62 L47,80 L50,90 L56,96 L62,100 L78,88 L80,72 L84,62Z" fill="#6aaed6"/><circle cx="61.2" cy="62.4" r="11.3" fill="#4a98cc"/><path d="M49.5,62 L50.5,76 L53,88 L58,97 L62,95 L80,73 L82,62Z" fill="#4a98cc"/><circle cx="61.2" cy="62.4" r="6.8" fill="#2a7abf"/><path d="M54.5,62 Q55,70 64.5,75.5 L75,64.6 L72,58Z" fill="#2a7abf"/><circle cx="59.6" cy="62.2" r="2.7" fill="#1c66ad"/><path d="M29.200000000000003,62.4 A32,32 0 0 1 93.2,62.4" stroke="#48505a" stroke-width="0.48" fill="none"/><path d="M28.5,62 L26.5,80 L17,104 L11,133 L95,133 L95,62" stroke="#48505a" stroke-width="0.48" fill="none"/><path d="M33.7,62.4 A27.5,27.5 0 0 1 88.7,62.4" stroke="#48505a" stroke-width="0.48" fill="none"/><path d="M33,62 L31.5,80 L25,100 L21,133 L95,133 L95,62" stroke="#48505a" stroke-width="0.48" fill="none"/><path d="M37.900000000000006,62.4 A23.3,23.3 0 0 1 84.5,62.4" stroke="#48505a" stroke-width="0.48" fill="none"/><path d="M37.5,62 L38.5,80 L40,90 L44,96 L62,110 L70,111 L84,96 L84,75 L90,62" stroke="#48505a" stroke-width="0.48" fill="none"/><path d="M41.800000000000004,62.4 A19.4,19.4 0 0 1 80.6,62.4" stroke="#48505a" stroke-width="0.48" fill="none"/><path d="M41.5,62 L43,80 L45,90 L50,95 L62,104.5 L70,104 L80,92 L81,74 L86,62" stroke="#48505a" stroke-width="0.48" fill="none"/><path d="M45.6,62.4 A15.6,15.6 0 0 1 76.8,62.4" stroke="#48505a" stroke-width="0.48" fill="none"/><path d="M45.5,62 L47,80 L50,90 L56,96 L62,100 L78,88 L80,72 L84,62" stroke="#48505a" stroke-width="0.48" fill="none"/><path d="M49.900000000000006,62.4 A11.3,11.3 0 0 1 72.5,62.4" stroke="#48505a" stroke-width="0.48" fill="none"/><path d="M49.5,62 L50.5,76 L53,88 L58,97 L62,95 L80,73 L82,62" stroke="#48505a" stroke-width="0.48" fill="none"/><path d="M54.400000000000006,62.4 A6.8,6.8 0 0 1 68.0,62.4" stroke="#48505a" stroke-width="0.48" fill="none"/><path d="M54.5,62 Q55,70 64.5,75.5 L75,64.6 L72,58" stroke="#48505a" stroke-width="0.48" fill="none"/><use href="#riv"/></g>
<use href="#basin" fill="none" stroke="#1a1a1a" stroke-width="0.9" stroke-linejoin="round"/>
<g fill="#c00a12" stroke="#4e0005" stroke-width="0.42"><circle cx="61.6" cy="60.2" r="1.0"/><circle cx="63.8" cy="60.2" r="1.0"/><circle cx="66.5" cy="58.9" r="1.0"/><circle cx="71.5" cy="60.2" r="1.0"/><circle cx="76.0" cy="58.4" r="1.0"/><circle cx="67.4" cy="61.6" r="1.0"/><circle cx="70.1" cy="62.2" r="1.0"/><circle cx="73.3" cy="63.0" r="1.0"/><circle cx="67.0" cy="64.0" r="1.0"/><circle cx="65.2" cy="66.2" r="1.0"/><circle cx="68.3" cy="66.7" r="1.0"/><circle cx="75.0" cy="65.8" r="1.0"/><circle cx="67.4" cy="70.3" r="1.0"/><circle cx="62.9" cy="70.7" r="1.0"/><circle cx="68.0" cy="68.5" r="1.0"/><circle cx="69.0" cy="63.5" r="1.0"/><circle cx="72.0" cy="61.5" r="1.0"/><circle cx="66.0" cy="72.0" r="1.0"/><circle cx="64.5" cy="73.5" r="1.0"/><circle cx="65.8" cy="74.6" r="1.0"/><circle cx="67.0" cy="73.0" r="1.0"/></g>
<path d="M76.0,13.9 L84.0,13.9 L80.0,20.8Z" fill="#dcdcdc" stroke="#fbfbfb" stroke-width="0.7" stroke-linejoin="round"/><path d="M76.8,14.6 L83.2,14.6 L80.0,19.8Z" fill="#c4c4c4"/><path d="M75.8,13.9 L84.2,13.9" stroke="#555" stroke-width="0.7" fill="none"/><path d="M78.2,14.8 L81.8,14.8 L80.0,17.7Z" fill="#000"/>
<path d="M10.5,28.4 L18.5,28.4 L14.5,35.3Z" fill="#dcdcdc" stroke="#fbfbfb" stroke-width="0.7" stroke-linejoin="round"/><path d="M11.3,29.1 L17.7,29.1 L14.5,34.3Z" fill="#c4c4c4"/><path d="M10.3,28.4 L18.7,28.4" stroke="#555" stroke-width="0.7" fill="none"/><path d="M12.8,29.3 L16.2,29.3 L14.5,32.2Z" fill="#000"/>
<path d="M54.8,27.4 L62.8,27.4 L58.8,34.3Z" fill="#dcdcdc" stroke="#fbfbfb" stroke-width="0.7" stroke-linejoin="round"/><path d="M55.6,28.1 L62.0,28.1 L58.8,33.3Z" fill="#c4c4c4"/><path d="M54.6,27.4 L63.0,27.4" stroke="#555" stroke-width="0.7" fill="none"/><path d="M57.0,28.3 L60.5,28.3 L58.8,31.2Z" fill="#000"/>
<path d="M37.4,35.2 L45.4,35.2 L41.4,42.1Z" fill="#dcdcdc" stroke="#fbfbfb" stroke-width="0.7" stroke-linejoin="round"/><path d="M38.2,35.9 L44.6,35.9 L41.4,41.1Z" fill="#c4c4c4"/><path d="M37.2,35.2 L45.6,35.2" stroke="#555" stroke-width="0.7" fill="none"/><path d="M39.6,36.1 L43.1,36.1 L41.4,39.0Z" fill="#000"/>
<path d="M89.4,37.9 L97.4,37.9 L93.4,44.8Z" fill="#dcdcdc" stroke="#fbfbfb" stroke-width="0.7" stroke-linejoin="round"/><path d="M90.2,38.6 L96.6,38.6 L93.4,43.8Z" fill="#c4c4c4"/><path d="M89.2,37.9 L97.6,37.9" stroke="#555" stroke-width="0.7" fill="none"/><path d="M91.7,38.8 L95.2,38.8 L93.4,41.7Z" fill="#000"/>
<path d="M83.5,61.9 L91.5,61.9 L87.5,68.8Z" fill="#dcdcdc" stroke="#fbfbfb" stroke-width="0.7" stroke-linejoin="round"/><path d="M84.3,62.6 L90.7,62.6 L87.5,67.8Z" fill="#c4c4c4"/><path d="M83.3,61.9 L91.7,61.9" stroke="#555" stroke-width="0.7" fill="none"/><path d="M85.8,62.8 L89.2,62.8 L87.5,65.7Z" fill="#000"/>
<path d="M62.5,75.4 L70.5,75.4 L66.5,82.3Z" fill="#dcdcdc" stroke="#fbfbfb" stroke-width="0.7" stroke-linejoin="round"/><path d="M63.3,76.1 L69.7,76.1 L66.5,81.3Z" fill="#c4c4c4"/><path d="M62.3,75.4 L70.7,75.4" stroke="#555" stroke-width="0.7" fill="none"/><path d="M64.8,76.3 L68.2,76.3 L66.5,79.2Z" fill="#000"/>
<path d="M54.0,87.4 L62.0,87.4 L58.0,94.3Z" fill="#dcdcdc" stroke="#fbfbfb" stroke-width="0.7" stroke-linejoin="round"/><path d="M54.8,88.1 L61.2,88.1 L58.0,93.3Z" fill="#c4c4c4"/><path d="M53.8,87.4 L62.2,87.4" stroke="#555" stroke-width="0.7" fill="none"/><path d="M56.2,88.3 L59.8,88.3 L58.0,91.2Z" fill="#000"/>
<path d="M31.6,98.7 L39.6,98.7 L35.6,105.6Z" fill="#dcdcdc" stroke="#fbfbfb" stroke-width="0.7" stroke-linejoin="round"/><path d="M32.4,99.4 L38.8,99.4 L35.6,104.6Z" fill="#c4c4c4"/><path d="M31.4,98.7 L39.8,98.7" stroke="#555" stroke-width="0.7" fill="none"/><path d="M33.9,99.6 L37.4,99.6 L35.6,102.5Z" fill="#000"/>
<path d="M57.0,101.8 L65.0,101.8 L61.0,108.7Z" fill="#dcdcdc" stroke="#fbfbfb" stroke-width="0.7" stroke-linejoin="round"/><path d="M57.8,102.5 L64.2,102.5 L61.0,107.7Z" fill="#c4c4c4"/><path d="M56.8,101.8 L65.2,101.8" stroke="#555" stroke-width="0.7" fill="none"/><path d="M59.2,102.7 L62.8,102.7 L61.0,105.6Z" fill="#000"/>
<path d="M39.6,108.4 L47.6,108.4 L43.6,115.3Z" fill="#dcdcdc" stroke="#fbfbfb" stroke-width="0.7" stroke-linejoin="round"/><path d="M40.4,109.1 L46.8,109.1 L43.6,114.3Z" fill="#c4c4c4"/><path d="M39.4,108.4 L47.8,108.4" stroke="#555" stroke-width="0.7" fill="none"/><path d="M41.9,109.3 L45.4,109.3 L43.6,112.2Z" fill="#000"/>
<path d="M79.0,112.7 L87.0,112.7 L83.0,119.6Z" fill="#dcdcdc" stroke="#fbfbfb" stroke-width="0.7" stroke-linejoin="round"/><path d="M79.8,113.4 L86.2,113.4 L83.0,118.6Z" fill="#c4c4c4"/><path d="M78.8,112.7 L87.2,112.7" stroke="#555" stroke-width="0.7" fill="none"/><path d="M81.2,113.6 L84.8,113.6 L83.0,116.5Z" fill="#000"/>
<path d="M3.6,116.8 L11.6,116.8 L7.6,123.7Z" fill="#dcdcdc" stroke="#fbfbfb" stroke-width="0.7" stroke-linejoin="round"/><path d="M4.4,117.5 L10.8,117.5 L7.6,122.7Z" fill="#c4c4c4"/><path d="M3.4,116.8 L11.8,116.8" stroke="#555" stroke-width="0.7" fill="none"/><path d="M5.8,117.7 L9.3,117.7 L7.6,120.6Z" fill="#000"/>
<path d="M49.6,127.6 L57.6,127.6 L53.6,134.5Z" fill="#dcdcdc" stroke="#fbfbfb" stroke-width="0.7" stroke-linejoin="round"/><path d="M50.4,128.3 L56.8,128.3 L53.6,133.5Z" fill="#c4c4c4"/><path d="M49.4,127.6 L57.8,127.6" stroke="#555" stroke-width="0.7" fill="none"/><path d="M51.9,128.5 L55.4,128.5 L53.6,131.4Z" fill="#000"/>
<path d="M65.0,129.4 L73.0,129.4 L69.0,136.3Z" fill="#dcdcdc" stroke="#fbfbfb" stroke-width="0.7" stroke-linejoin="round"/><path d="M65.8,130.1 L72.2,130.1 L69.0,135.3Z" fill="#c4c4c4"/><path d="M64.8,129.4 L73.2,129.4" stroke="#555" stroke-width="0.7" fill="none"/><path d="M67.2,130.3 L70.8,130.3 L69.0,133.2Z" fill="#000"/>
<path d="M55.7,58.0 L63.5,58.0 L59.6,64.6Z" fill="#cc08a6" stroke="#5a0046" stroke-width="0.4"/><path d="M57.7,59.0 L61.5,59.0 L59.6,61.9Z" fill="#0c0008"/>
<text x="61.8" y="55.6" transform="rotate(35 61.8 55.6)" text-anchor="middle" font-size="6.6" stroke="#fff" stroke-width="2.0" stroke-linejoin="round" paint-order="stroke" fill="#111" dy="2.2">400</text><text x="47.5" y="82" transform="rotate(-82 47.5 82)" text-anchor="middle" font-size="6.3" stroke="#fff" stroke-width="2.0" stroke-linejoin="round" paint-order="stroke" fill="#111" dy="2.2">300</text><text x="30" y="76" transform="rotate(-72 30 76)" text-anchor="middle" font-size="6.3" stroke="#fff" stroke-width="2.0" stroke-linejoin="round" paint-order="stroke" fill="#111" dy="2.2">100</text><text x="39.8" y="66.4" transform="rotate(-82 39.8 66.4)" text-anchor="middle" font-size="6.3" stroke="#fff" stroke-width="2.0" stroke-linejoin="round" paint-order="stroke" fill="#111" dy="2.2">200</text><text x="18" y="104" transform="rotate(-62 18 104)" text-anchor="middle" font-size="6.3" stroke="#fff" stroke-width="2.0" stroke-linejoin="round" paint-order="stroke" fill="#111" dy="2.2">100</text><text x="45" y="95" transform="rotate(0 45 95)" text-anchor="middle" font-size="6.3" stroke="#fff" stroke-width="2.0" stroke-linejoin="round" paint-order="stroke" fill="#111" dy="2.2">200</text><text x="63" y="109" transform="rotate(0 63 109)" text-anchor="middle" font-size="6.3" stroke="#fff" stroke-width="2.0" stroke-linejoin="round" paint-order="stroke" fill="#111" dy="2.2">200</text><text x="81.5" y="76" transform="rotate(-65 81.5 76)" text-anchor="middle" font-size="6.3" stroke="#fff" stroke-width="2.0" stroke-linejoin="round" paint-order="stroke" fill="#111" dy="2.2">200</text><text x="85" y="92.5" transform="rotate(-50 85 92.5)" text-anchor="middle" font-size="6.3" stroke="#fff" stroke-width="2.0" stroke-linejoin="round" paint-order="stroke" fill="#111" dy="2.2">200</text>
</g>
<rect x="65.2" y="0" width="29.299999999999997" height="16" fill="#fff" stroke="#222" stroke-width="0.7"/>
<text x="79.8" y="11.1" text-anchor="middle" font-weight="bold" font-size="8.3" fill="#111">2014</text>
</g>
<g transform="translate(202.2,5.3)" clip-path="url(#pc)"><g transform="translate(-0.2,-0.3)">
<g clip-path="url(#bc)"><rect x="0" y="0" width="94.5" height="133.0" fill="#f3f8fd"/><path d="M11.4,133 L11.4,109.6 L12,101.2 L15.6,94 L22.8,86.8 L32.4,78.4 L42,70 L59,56.8 L80.6,61 L95,66 L95,133Z" fill="#dfebf8"/><path d="M26,133 L28.2,98.8 L30,95.8 L34.8,91.6 L45.6,88 L60,82 L66.2,80.2 L77,85 L89,93.4 L95,98 L95,133Z" fill="#c9ddf0"/><path d="M50.6,100.2 Q60.8,96 71.6,102 Q70,112 59.6,115.2 L55,108Z" fill="#a4cbe5"/><path d="M11.4,109.6 L12,101.2 L15.6,94 L22.8,86.8 L32.4,78.4 L42,70 L59,56.8 L80.6,61 L95,66" stroke="#48505a" stroke-width="0.48" fill="none"/><path d="M28.2,98.8 L30,95.8 L34.8,91.6 L45.6,88 L60,82 L66.2,80.2 L77,85 L89,93.4" stroke="#48505a" stroke-width="0.48" fill="none"/><path d="M50.6,100.2 Q60.8,96 71.6,102 Q70,112 59.6,115.2" stroke="#48505a" stroke-width="0.48" fill="none"/><use href="#riv"/></g>
<use href="#basin" fill="none" stroke="#1a1a1a" stroke-width="0.9" stroke-linejoin="round"/>
<path d="M76.0,13.9 L84.0,13.9 L80.0,20.8Z" fill="#dcdcdc" stroke="#fbfbfb" stroke-width="0.7" stroke-linejoin="round"/><path d="M76.8,14.6 L83.2,14.6 L80.0,19.8Z" fill="#c4c4c4"/><path d="M75.8,13.9 L84.2,13.9" stroke="#555" stroke-width="0.7" fill="none"/><path d="M78.2,14.8 L81.8,14.8 L80.0,17.7Z" fill="#000"/>
<path d="M10.5,28.4 L18.5,28.4 L14.5,35.3Z" fill="#dcdcdc" stroke="#fbfbfb" stroke-width="0.7" stroke-linejoin="round"/><path d="M11.3,29.1 L17.7,29.1 L14.5,34.3Z" fill="#c4c4c4"/><path d="M10.3,28.4 L18.7,28.4" stroke="#555" stroke-width="0.7" fill="none"/><path d="M12.8,29.3 L16.2,29.3 L14.5,32.2Z" fill="#000"/>
<path d="M54.8,27.4 L62.8,27.4 L58.8,34.3Z" fill="#dcdcdc" stroke="#fbfbfb" stroke-width="0.7" stroke-linejoin="round"/><path d="M55.6,28.1 L62.0,28.1 L58.8,33.3Z" fill="#c4c4c4"/><path d="M54.6,27.4 L63.0,27.4" stroke="#555" stroke-width="0.7" fill="none"/><path d="M57.0,28.3 L60.5,28.3 L58.8,31.2Z" fill="#000"/>
<path d="M37.4,35.2 L45.4,35.2 L41.4,42.1Z" fill="#dcdcdc" stroke="#fbfbfb" stroke-width="0.7" stroke-linejoin="round"/><path d="M38.2,35.9 L44.6,35.9 L41.4,41.1Z" fill="#c4c4c4"/><path d="M37.2,35.2 L45.6,35.2" stroke="#555" stroke-width="0.7" fill="none"/><path d="M39.6,36.1 L43.1,36.1 L41.4,39.0Z" fill="#000"/>
<path d="M89.4,37.9 L97.4,37.9 L93.4,44.8Z" fill="#dcdcdc" stroke="#fbfbfb" stroke-width="0.7" stroke-linejoin="round"/><path d="M90.2,38.6 L96.6,38.6 L93.4,43.8Z" fill="#c4c4c4"/><path d="M89.2,37.9 L97.6,37.9" stroke="#555" stroke-width="0.7" fill="none"/><path d="M91.7,38.8 L95.2,38.8 L93.4,41.7Z" fill="#000"/>
<path d="M83.5,61.9 L91.5,61.9 L87.5,68.8Z" fill="#dcdcdc" stroke="#fbfbfb" stroke-width="0.7" stroke-linejoin="round"/><path d="M84.3,62.6 L90.7,62.6 L87.5,67.8Z" fill="#c4c4c4"/><path d="M83.3,61.9 L91.7,61.9" stroke="#555" stroke-width="0.7" fill="none"/><path d="M85.8,62.8 L89.2,62.8 L87.5,65.7Z" fill="#000"/>
<path d="M62.5,75.4 L70.5,75.4 L66.5,82.3Z" fill="#dcdcdc" stroke="#fbfbfb" stroke-width="0.7" stroke-linejoin="round"/><path d="M63.3,76.1 L69.7,76.1 L66.5,81.3Z" fill="#c4c4c4"/><path d="M62.3,75.4 L70.7,75.4" stroke="#555" stroke-width="0.7" fill="none"/><path d="M64.8,76.3 L68.2,76.3 L66.5,79.2Z" fill="#000"/>
<path d="M54.0,87.4 L62.0,87.4 L58.0,94.3Z" fill="#dcdcdc" stroke="#fbfbfb" stroke-width="0.7" stroke-linejoin="round"/><path d="M54.8,88.1 L61.2,88.1 L58.0,93.3Z" fill="#c4c4c4"/><path d="M53.8,87.4 L62.2,87.4" stroke="#555" stroke-width="0.7" fill="none"/><path d="M56.2,88.3 L59.8,88.3 L58.0,91.2Z" fill="#000"/>
<path d="M31.6,98.7 L39.6,98.7 L35.6,105.6Z" fill="#dcdcdc" stroke="#fbfbfb" stroke-width="0.7" stroke-linejoin="round"/><path d="M32.4,99.4 L38.8,99.4 L35.6,104.6Z" fill="#c4c4c4"/><path d="M31.4,98.7 L39.8,98.7" stroke="#555" stroke-width="0.7" fill="none"/><path d="M33.9,99.6 L37.4,99.6 L35.6,102.5Z" fill="#000"/>
<path d="M57.0,101.8 L65.0,101.8 L61.0,108.7Z" fill="#dcdcdc" stroke="#fbfbfb" stroke-width="0.7" stroke-linejoin="round"/><path d="M57.8,102.5 L64.2,102.5 L61.0,107.7Z" fill="#c4c4c4"/><path d="M56.8,101.8 L65.2,101.8" stroke="#555" stroke-width="0.7" fill="none"/><path d="M59.2,102.7 L62.8,102.7 L61.0,105.6Z" fill="#000"/>
<path d="M39.6,108.4 L47.6,108.4 L43.6,115.3Z" fill="#dcdcdc" stroke="#fbfbfb" stroke-width="0.7" stroke-linejoin="round"/><path d="M40.4,109.1 L46.8,109.1 L43.6,114.3Z" fill="#c4c4c4"/><path d="M39.4,108.4 L47.8,108.4" stroke="#555" stroke-width="0.7" fill="none"/><path d="M41.9,109.3 L45.4,109.3 L43.6,112.2Z" fill="#000"/>
<path d="M79.0,112.7 L87.0,112.7 L83.0,119.6Z" fill="#dcdcdc" stroke="#fbfbfb" stroke-width="0.7" stroke-linejoin="round"/><path d="M79.8,113.4 L86.2,113.4 L83.0,118.6Z" fill="#c4c4c4"/><path d="M78.8,112.7 L87.2,112.7" stroke="#555" stroke-width="0.7" fill="none"/><path d="M81.2,113.6 L84.8,113.6 L83.0,116.5Z" fill="#000"/>
<path d="M3.6,116.8 L11.6,116.8 L7.6,123.7Z" fill="#dcdcdc" stroke="#fbfbfb" stroke-width="0.7" stroke-linejoin="round"/><path d="M4.4,117.5 L10.8,117.5 L7.6,122.7Z" fill="#c4c4c4"/><path d="M3.4,116.8 L11.8,116.8" stroke="#555" stroke-width="0.7" fill="none"/><path d="M5.8,117.7 L9.3,117.7 L7.6,120.6Z" fill="#000"/>
<path d="M49.6,127.6 L57.6,127.6 L53.6,134.5Z" fill="#dcdcdc" stroke="#fbfbfb" stroke-width="0.7" stroke-linejoin="round"/><path d="M50.4,128.3 L56.8,128.3 L53.6,133.5Z" fill="#c4c4c4"/><path d="M49.4,127.6 L57.8,127.6" stroke="#555" stroke-width="0.7" fill="none"/><path d="M51.9,128.5 L55.4,128.5 L53.6,131.4Z" fill="#000"/>
<path d="M65.0,129.4 L73.0,129.4 L69.0,136.3Z" fill="#dcdcdc" stroke="#fbfbfb" stroke-width="0.7" stroke-linejoin="round"/><path d="M65.8,130.1 L72.2,130.1 L69.0,135.3Z" fill="#c4c4c4"/><path d="M64.8,129.4 L73.2,129.4" stroke="#555" stroke-width="0.7" fill="none"/><path d="M67.2,130.3 L70.8,130.3 L69.0,133.2Z" fill="#000"/>
<path d="M56.8,57.0 L64.8,57.0 L60.8,63.9Z" fill="#dcdcdc" stroke="#fbfbfb" stroke-width="0.7" stroke-linejoin="round"/><path d="M57.6,57.7 L64.0,57.7 L60.8,62.9Z" fill="#c4c4c4"/><path d="M56.6,57.0 L65.0,57.0" stroke="#555" stroke-width="0.7" fill="none"/><path d="M59.0,57.9 L62.5,57.9 L60.8,60.8Z" fill="#000"/>
<text x="33" y="75" transform="rotate(-40 33 75)" text-anchor="middle" font-size="6.3" stroke="#fff" stroke-width="2.0" stroke-linejoin="round" paint-order="stroke" fill="#111" dy="2.2">100</text><text x="71" y="96" transform="rotate(40 71 96)" text-anchor="middle" font-size="6.3" stroke="#fff" stroke-width="2.0" stroke-linejoin="round" paint-order="stroke" fill="#111" dy="2.2">200</text>
</g>
<rect x="65.2" y="0" width="29.299999999999997" height="16" fill="#fff" stroke="#222" stroke-width="0.7"/>
<text x="79.8" y="11.1" text-anchor="middle" font-weight="bold" font-size="8.3" fill="#111">2016</text>
</g>
<g transform="translate(296.7,5.3)" clip-path="url(#pc)"><g transform="translate(-0.2,-0.3)">
<g clip-path="url(#bc)"><rect x="0" y="0" width="94.5" height="133.0" fill="#dce9f6"/><path d="M0,95 L6,95 L4,110 L8,133 L0,133Z" fill="#e8f1fa"/><circle cx="61" cy="62" r="33" fill="#cadef0"/><path d="M28,62 L26,72 L21,84 L14,95 L9,108 L10,133 L95,133 L95,62Z" fill="#cadef0"/><circle cx="61" cy="62" r="29" fill="#abcfe6"/><path d="M32,62 L30,74 L25,86 L19,98 L20,107 L26,100 L54,101 L58,110 L62,113 L75,108 L90,100 L95,62Z" fill="#abcfe6"/><circle cx="61" cy="62" r="24.7" fill="#85bbdc"/><path d="M36.3,62 L34.5,74 L30,86 L27,96 L30,99 L54,101 L62,102 L80,95 L91,88 L95,62Z" fill="#85bbdc"/><circle cx="61" cy="62" r="19.5" fill="#5fa6d1"/><path d="M41.5,62 L40,74 L36,86 L33.5,97 L44,100 L53.7,101 L74,92.6 L88.5,83 L92,62Z" fill="#5fa6d1"/><circle cx="61" cy="62" r="15" fill="#3f8fc7"/><path d="M46,62 L45,74 L41.5,86 L40,96 L46.5,98.6 L64.5,90.8 L87.3,75.8 L90,62Z" fill="#3f8fc7"/><circle cx="61" cy="62" r="10.4" fill="#2373b8"/><path d="M50.6,62 L49.5,74 L47,84 L52.5,89 L74,77 L86,70 L88,62Z" fill="#2373b8"/><circle cx="61" cy="62" r="5.8" fill="#185fa8"/><path d="M55.2,62 L56,66 L61,68 L66,66 L66.8,62Z" fill="#185fa8"/><path d="M28,62 A33,33 0 0 1 94,62" stroke="#48505a" stroke-width="0.48" fill="none"/><path d="M28,62 L26,72 L21,84 L14,95 L9,108 L10,133 L95,133 L95,62" stroke="#48505a" stroke-width="0.48" fill="none"/><path d="M32,62 A29,29 0 0 1 90,62" stroke="#48505a" stroke-width="0.48" fill="none"/><path d="M32,62 L30,74 L25,86 L19,98 L20,107 L26,100 L54,101 L58,110 L62,113 L75,108 L90,100 L95,62" stroke="#48505a" stroke-width="0.48" fill="none"/><path d="M36.3,62 A24.7,24.7 0 0 1 85.7,62" stroke="#48505a" stroke-width="0.48" fill="none"/><path d="M36.3,62 L34.5,74 L30,86 L27,96 L30,99 L54,101 L62,102 L80,95 L91,88 L95,62" stroke="#48505a" stroke-width="0.48" fill="none"/><path d="M41.5,62 A19.5,19.5 0 0 1 80.5,62" stroke="#48505a" stroke-width="0.48" fill="none"/><path d="M41.5,62 L40,74 L36,86 L33.5,97 L44,100 L53.7,101 L74,92.6 L88.5,83 L92,62" stroke="#48505a" stroke-width="0.48" fill="none"/><path d="M46,62 A15,15 0 0 1 76,62" stroke="#48505a" stroke-width="0.48" fill="none"/><path d="M46,62 L45,74 L41.5,86 L40,96 L46.5,98.6 L64.5,90.8 L87.3,75.8 L90,62" stroke="#48505a" stroke-width="0.48" fill="none"/><path d="M50.6,62 A10.4,10.4 0 0 1 71.4,62" stroke="#48505a" stroke-width="0.48" fill="none"/><path d="M50.6,62 L49.5,74 L47,84 L52.5,89 L74,77 L86,70 L88,62" stroke="#48505a" stroke-width="0.48" fill="none"/><path d="M55.2,62 A5.8,5.8 0 0 1 66.8,62" stroke="#48505a" stroke-width="0.48" fill="none"/><path d="M55.2,62 L56,66 L61,68 L66,66 L66.8,62" stroke="#48505a" stroke-width="0.48" fill="none"/><use href="#riv"/></g>
<use href="#basin" fill="none" stroke="#1a1a1a" stroke-width="0.9" stroke-linejoin="round"/>
<g fill="#c00a12" stroke="#4e0005" stroke-width="0.42"><circle cx="58.5" cy="73.2" r="1.0"/><circle cx="49.6" cy="80.5" r="1.0"/><circle cx="75.3" cy="67.8" r="1.0"/><circle cx="50.8" cy="68.1" r="1.0"/><circle cx="73.9" cy="70.7" r="1.0"/><circle cx="63.4" cy="71.9" r="1.0"/><circle cx="62.7" cy="69.2" r="1.0"/><circle cx="63.8" cy="67.8" r="1.0"/><circle cx="63.5" cy="74.2" r="1.0"/><circle cx="67.9" cy="71.9" r="1.0"/><circle cx="56.4" cy="74.1" r="1.0"/><circle cx="60.3" cy="78.9" r="1.0"/><circle cx="70.5" cy="72.1" r="1.0"/><circle cx="59.8" cy="70.8" r="1.0"/><circle cx="56.0" cy="72.3" r="1.0"/><circle cx="66.6" cy="74.7" r="1.0"/><circle cx="69.4" cy="80.2" r="1.0"/><circle cx="58.0" cy="73.5" r="1.0"/><circle cx="59.6" cy="73.9" r="1.0"/><circle cx="65.4" cy="74.4" r="1.0"/><circle cx="62.1" cy="74.5" r="1.0"/><circle cx="64.6" cy="75.7" r="1.0"/><circle cx="47.7" cy="70.9" r="1.0"/><circle cx="63.7" cy="69.3" r="1.0"/><circle cx="55.3" cy="75.9" r="1.0"/><circle cx="58.6" cy="75.7" r="1.0"/><circle cx="70.4" cy="73.7" r="1.0"/><circle cx="68.3" cy="72.3" r="1.0"/><circle cx="52.0" cy="73.7" r="1.0"/><circle cx="67.7" cy="70.8" r="1.0"/><circle cx="63.3" cy="75.7" r="1.0"/><circle cx="56.7" cy="75.8" r="1.0"/><circle cx="79.7" cy="69.9" r="1.0"/><circle cx="65.2" cy="72.4" r="1.0"/><circle cx="77.1" cy="73.2" r="1.0"/><circle cx="71.4" cy="70.0" r="1.0"/><circle cx="63.9" cy="73.0" r="1.0"/><circle cx="49.3" cy="79.2" r="1.0"/><circle cx="71.2" cy="66.2" r="1.0"/><circle cx="70.3" cy="72.1" r="1.0"/><circle cx="67.9" cy="74.1" r="1.0"/><circle cx="51.2" cy="73.1" r="1.0"/><circle cx="76.5" cy="70.1" r="1.0"/><circle cx="55.0" cy="68.7" r="1.0"/><circle cx="53.7" cy="74.9" r="1.0"/><circle cx="78.5" cy="73.5" r="1.0"/><circle cx="66.6" cy="80.9" r="1.0"/><circle cx="59.4" cy="70.9" r="1.0"/><circle cx="68.6" cy="74.7" r="1.0"/><circle cx="55.1" cy="69.4" r="1.0"/><circle cx="66.5" cy="73.7" r="1.0"/><circle cx="52.9" cy="73.0" r="1.0"/><circle cx="59.5" cy="75.0" r="1.0"/><circle cx="63.0" cy="72.8" r="1.0"/><circle cx="61.3" cy="77.0" r="1.0"/><circle cx="75.7" cy="70.9" r="1.0"/><circle cx="71.0" cy="69.8" r="1.0"/><circle cx="64.8" cy="75.7" r="1.0"/><circle cx="76.7" cy="70.7" r="1.0"/><circle cx="63.4" cy="73.7" r="1.0"/><circle cx="51.3" cy="73.9" r="1.0"/><circle cx="58.4" cy="74.7" r="1.0"/><circle cx="53.9" cy="66.6" r="1.0"/><circle cx="64.4" cy="73.9" r="1.0"/><circle cx="59.6" cy="76.5" r="1.0"/><circle cx="61.5" cy="71.0" r="1.0"/><circle cx="67.7" cy="67.1" r="1.0"/><circle cx="58.3" cy="73.3" r="1.0"/><circle cx="71.2" cy="71.9" r="1.0"/><circle cx="66.5" cy="70.5" r="1.0"/><circle cx="67.0" cy="78.8" r="1.0"/><circle cx="58.8" cy="81.9" r="1.0"/><circle cx="58.5" cy="73.4" r="1.0"/><circle cx="65.7" cy="76.6" r="1.0"/><circle cx="53.0" cy="66.2" r="1.0"/><circle cx="69.3" cy="75.5" r="1.0"/><circle cx="69.9" cy="82.1" r="1.0"/><circle cx="65.8" cy="73.8" r="1.0"/><circle cx="72.0" cy="73.8" r="1.0"/><circle cx="77.8" cy="67.6" r="1.0"/><circle cx="60.0" cy="60.9" r="1.0"/><circle cx="70.8" cy="71.2" r="1.0"/><circle cx="72.4" cy="80.2" r="1.0"/><circle cx="63.9" cy="72.1" r="1.0"/><circle cx="59.6" cy="70.3" r="1.0"/><circle cx="58.8" cy="75.7" r="1.0"/><circle cx="64.3" cy="73.2" r="1.0"/><circle cx="62.8" cy="76.4" r="1.0"/><circle cx="68.2" cy="72.2" r="1.0"/><circle cx="69.6" cy="72.1" r="1.0"/><circle cx="54.6" cy="78.9" r="1.0"/><circle cx="67.7" cy="69.3" r="1.0"/><circle cx="73.2" cy="73.6" r="1.0"/><circle cx="51.1" cy="79.7" r="1.0"/><circle cx="67.1" cy="76.0" r="1.0"/><circle cx="65.6" cy="72.3" r="1.0"/><circle cx="51.1" cy="77.4" r="1.0"/><circle cx="64.2" cy="72.0" r="1.0"/><circle cx="67.0" cy="73.1" r="1.0"/><circle cx="69.6" cy="71.3" r="1.0"/><circle cx="63.2" cy="65.3" r="1.0"/><circle cx="60.6" cy="75.7" r="1.0"/><circle cx="75.2" cy="70.9" r="1.0"/><circle cx="63.4" cy="78.8" r="1.0"/><circle cx="61.4" cy="75.8" r="1.0"/><circle cx="78.2" cy="72.1" r="1.0"/><circle cx="74.2" cy="69.7" r="1.0"/><circle cx="65.7" cy="72.6" r="1.0"/><circle cx="65.3" cy="77.0" r="1.0"/><circle cx="84.1" cy="69.2" r="1.0"/><circle cx="59.2" cy="75.1" r="1.0"/><circle cx="55.2" cy="75.4" r="1.0"/><circle cx="68.8" cy="71.7" r="1.0"/><circle cx="68.1" cy="67.1" r="1.0"/><circle cx="70.1" cy="67.0" r="1.0"/><circle cx="58.0" cy="71.4" r="1.0"/><circle cx="60.8" cy="76.3" r="1.0"/><circle cx="64.6" cy="71.5" r="1.0"/><circle cx="69.0" cy="78.4" r="1.0"/><circle cx="64.1" cy="74.3" r="1.0"/><circle cx="74.6" cy="73.2" r="1.0"/><circle cx="53.7" cy="82.7" r="1.0"/><circle cx="82.2" cy="64.6" r="1.0"/><circle cx="63.8" cy="74.5" r="1.0"/><circle cx="72.4" cy="74.8" r="1.0"/><circle cx="61.4" cy="69.4" r="1.0"/><circle cx="65.1" cy="76.7" r="1.0"/><circle cx="54.5" cy="70.0" r="1.0"/><circle cx="63.3" cy="66.1" r="1.0"/><circle cx="61.7" cy="71.6" r="1.0"/><circle cx="67.6" cy="70.2" r="1.0"/><circle cx="56.4" cy="72.1" r="1.0"/><circle cx="63.4" cy="70.6" r="1.0"/><circle cx="64.3" cy="75.7" r="1.0"/><circle cx="74.5" cy="78.4" r="1.0"/><circle cx="57.3" cy="72.0" r="1.0"/><circle cx="43.4" cy="81.3" r="1.0"/><circle cx="57.8" cy="73.3" r="1.0"/><circle cx="68.1" cy="67.8" r="1.0"/><circle cx="67.9" cy="72.6" r="1.0"/><circle cx="48.6" cy="75.1" r="1.0"/><circle cx="73.7" cy="65.6" r="1.0"/><circle cx="70.9" cy="73.3" r="1.0"/><circle cx="68.1" cy="74.3" r="1.0"/><circle cx="75.0" cy="71.4" r="1.0"/><circle cx="71.3" cy="71.0" r="1.0"/><circle cx="70.0" cy="69.6" r="1.0"/><circle cx="63.5" cy="79.3" r="1.0"/><circle cx="67.7" cy="72.2" r="1.0"/><circle cx="54.1" cy="70.8" r="1.0"/><circle cx="65.9" cy="76.3" r="1.0"/><circle cx="67.7" cy="74.6" r="1.0"/><circle cx="64.0" cy="77.9" r="1.0"/><circle cx="60.5" cy="71.3" r="1.0"/><circle cx="71.5" cy="72.7" r="1.0"/><circle cx="61.5" cy="71.1" r="1.0"/><circle cx="62.0" cy="75.4" r="1.0"/><circle cx="66.7" cy="68.4" r="1.0"/><circle cx="67.7" cy="73.4" r="1.0"/><circle cx="55.7" cy="76.4" r="1.0"/><circle cx="61.5" cy="72.0" r="1.0"/><circle cx="71.1" cy="77.3" r="1.0"/><circle cx="58.3" cy="75.0" r="1.0"/><circle cx="57.2" cy="81.8" r="1.0"/><circle cx="60.1" cy="77.6" r="1.0"/><circle cx="58.7" cy="76.3" r="1.0"/><circle cx="82.2" cy="62.6" r="1.0"/><circle cx="60.4" cy="75.1" r="1.0"/><circle cx="63.0" cy="70.7" r="1.0"/><circle cx="82.3" cy="72.0" r="1.0"/><circle cx="50.3" cy="77.0" r="1.0"/><circle cx="49.7" cy="78.2" r="1.0"/><circle cx="59.1" cy="73.9" r="1.0"/><circle cx="74.7" cy="72.7" r="1.0"/><circle cx="51.8" cy="67.7" r="1.0"/><circle cx="74.2" cy="75.0" r="1.0"/><circle cx="57.3" cy="76.6" r="1.0"/><circle cx="68.4" cy="75.0" r="1.0"/><circle cx="44.8" cy="73.3" r="1.0"/><circle cx="71.8" cy="75.1" r="1.0"/><circle cx="70.9" cy="63.7" r="1.0"/><circle cx="65.6" cy="74.7" r="1.0"/><circle cx="85.4" cy="68.1" r="1.0"/><circle cx="61.2" cy="73.3" r="1.0"/><circle cx="71.4" cy="70.9" r="1.0"/><circle cx="73.5" cy="69.5" r="1.0"/><circle cx="66.1" cy="70.9" r="1.0"/><circle cx="65.2" cy="70.4" r="1.0"/><circle cx="50.7" cy="77.9" r="1.0"/><circle cx="66.4" cy="70.8" r="1.0"/><circle cx="66.0" cy="76.4" r="1.0"/><circle cx="55.7" cy="73.2" r="1.0"/><circle cx="68.7" cy="74.6" r="1.0"/><circle cx="60.6" cy="65.6" r="1.0"/><circle cx="74.6" cy="73.4" r="1.0"/><circle cx="64.0" cy="72.0" r="1.0"/><circle cx="66.1" cy="71.3" r="1.0"/><circle cx="55.1" cy="71.0" r="1.0"/><circle cx="58.8" cy="71.2" r="1.0"/><circle cx="54.3" cy="76.0" r="1.0"/><circle cx="53.1" cy="76.1" r="1.0"/><circle cx="55.5" cy="74.9" r="1.0"/><circle cx="75.7" cy="72.9" r="1.0"/><circle cx="57.8" cy="73.6" r="1.0"/><circle cx="64.8" cy="66.7" r="1.0"/><circle cx="58.9" cy="73.9" r="1.0"/><circle cx="60.0" cy="73.6" r="1.0"/><circle cx="70.4" cy="75.3" r="1.0"/><circle cx="71.8" cy="74.6" r="1.0"/><circle cx="61.6" cy="73.1" r="1.0"/><circle cx="61.6" cy="72.0" r="1.0"/><circle cx="62.0" cy="66.9" r="1.0"/><circle cx="61.2" cy="73.1" r="1.0"/><circle cx="55.7" cy="73.5" r="1.0"/><circle cx="68.3" cy="72.1" r="1.0"/><circle cx="81.0" cy="62.4" r="1.0"/><circle cx="61.8" cy="66.6" r="1.0"/><circle cx="73.0" cy="82.0" r="1.0"/><circle cx="42.8" cy="74.9" r="1.0"/><circle cx="68.3" cy="71.6" r="1.0"/><circle cx="68.1" cy="64.6" r="1.0"/><circle cx="71.3" cy="73.8" r="1.0"/><circle cx="64.0" cy="70.9" r="1.0"/><circle cx="69.3" cy="70.9" r="1.0"/><circle cx="65.8" cy="71.0" r="1.0"/><circle cx="44.9" cy="74.2" r="1.0"/><circle cx="65.9" cy="75.6" r="1.0"/><circle cx="56.6" cy="73.4" r="1.0"/><circle cx="69.3" cy="73.2" r="1.0"/><circle cx="75.0" cy="79.4" r="1.0"/><circle cx="55.8" cy="66.6" r="1.0"/><circle cx="71.6" cy="78.0" r="1.0"/><circle cx="72.0" cy="75.4" r="1.0"/><circle cx="58.6" cy="70.8" r="1.0"/><circle cx="71.3" cy="69.2" r="1.0"/><circle cx="48.4" cy="70.5" r="1.0"/><circle cx="85.6" cy="78.4" r="1.0"/><circle cx="58.0" cy="70.8" r="1.0"/><circle cx="65.8" cy="70.2" r="1.0"/><circle cx="75.1" cy="71.9" r="1.0"/><circle cx="55.1" cy="78.3" r="1.0"/><circle cx="59.1" cy="74.1" r="1.0"/><circle cx="63.8" cy="71.9" r="1.0"/><circle cx="66.6" cy="70.3" r="1.0"/><circle cx="47.8" cy="66.2" r="1.0"/><circle cx="53.1" cy="71.0" r="1.0"/><circle cx="63.8" cy="73.2" r="1.0"/><circle cx="68.7" cy="73.1" r="1.0"/><circle cx="57.1" cy="70.9" r="1.0"/><circle cx="46.0" cy="73.6" r="1.0"/><circle cx="68.2" cy="74.6" r="1.0"/><circle cx="62.9" cy="72.4" r="1.0"/><circle cx="71.9" cy="72.5" r="1.0"/><circle cx="70.4" cy="74.7" r="1.0"/><circle cx="66.1" cy="77.6" r="1.0"/><circle cx="59.1" cy="72.1" r="1.0"/><circle cx="56.9" cy="70.6" r="1.0"/><circle cx="77.6" cy="78.4" r="1.0"/><circle cx="64.3" cy="75.0" r="1.0"/><circle cx="74.2" cy="75.2" r="1.0"/><circle cx="73.9" cy="67.7" r="1.0"/><circle cx="58.7" cy="75.0" r="1.0"/><circle cx="76.2" cy="72.5" r="1.0"/><circle cx="56.6" cy="72.2" r="1.0"/><circle cx="58.2" cy="70.3" r="1.0"/><circle cx="76.6" cy="69.9" r="1.0"/><circle cx="64.7" cy="80.8" r="1.0"/><circle cx="74.1" cy="73.5" r="1.0"/><circle cx="58.9" cy="74.8" r="1.0"/><circle cx="77.9" cy="74.3" r="1.0"/><circle cx="74.7" cy="72.6" r="1.0"/><circle cx="68.3" cy="72.0" r="1.0"/><circle cx="67.9" cy="77.4" r="1.0"/><circle cx="51.8" cy="73.6" r="1.0"/><circle cx="65.9" cy="70.8" r="1.0"/><circle cx="61.6" cy="76.0" r="1.0"/><circle cx="81.1" cy="74.1" r="1.0"/><circle cx="66.4" cy="67.2" r="1.0"/><circle cx="80.4" cy="72.1" r="1.0"/><circle cx="63.4" cy="69.0" r="1.0"/><circle cx="63.2" cy="69.1" r="1.0"/><circle cx="64.7" cy="74.6" r="1.0"/><circle cx="64.3" cy="74.0" r="1.0"/><circle cx="57.1" cy="78.6" r="1.0"/><circle cx="58.0" cy="66.9" r="1.0"/><circle cx="62.2" cy="70.4" r="1.0"/><circle cx="55.3" cy="72.3" r="1.0"/><circle cx="66.2" cy="68.6" r="1.0"/><circle cx="63.2" cy="78.2" r="1.0"/><circle cx="69.8" cy="72.0" r="1.0"/><circle cx="65.1" cy="72.5" r="1.0"/><circle cx="63.8" cy="75.7" r="1.0"/><circle cx="62.6" cy="64.4" r="1.0"/><circle cx="63.6" cy="69.8" r="1.0"/><circle cx="69.4" cy="70.4" r="1.0"/><circle cx="65.8" cy="80.7" r="1.0"/><circle cx="54.8" cy="69.6" r="1.0"/><circle cx="51.4" cy="65.2" r="1.0"/><circle cx="48.2" cy="75.4" r="1.0"/><circle cx="58.1" cy="66.7" r="1.0"/><circle cx="51.6" cy="76.1" r="1.0"/><circle cx="57.3" cy="72.1" r="1.0"/><circle cx="67.1" cy="77.7" r="1.0"/><circle cx="80.7" cy="75.6" r="1.0"/><circle cx="65.3" cy="73.6" r="1.0"/><circle cx="79.6" cy="77.1" r="1.0"/><circle cx="61.5" cy="74.8" r="1.0"/><circle cx="66.4" cy="73.0" r="1.0"/><circle cx="59.4" cy="68.5" r="1.0"/><circle cx="59.1" cy="67.8" r="1.0"/><circle cx="74.5" cy="74.2" r="1.0"/><circle cx="54.1" cy="78.7" r="1.0"/><circle cx="71.1" cy="65.6" r="1.0"/><circle cx="79.8" cy="74.8" r="1.0"/><circle cx="81.2" cy="67.4" r="1.0"/><circle cx="68.6" cy="74.2" r="1.0"/><circle cx="65.8" cy="73.5" r="1.0"/><circle cx="72.6" cy="67.0" r="1.0"/><circle cx="53.1" cy="68.7" r="1.0"/><circle cx="59.1" cy="71.2" r="1.0"/><circle cx="67.2" cy="73.7" r="1.0"/><circle cx="64.1" cy="70.6" r="1.0"/><circle cx="60.5" cy="76.7" r="1.0"/><circle cx="70.5" cy="72.9" r="1.0"/><circle cx="61.7" cy="78.8" r="1.0"/><circle cx="59.1" cy="75.7" r="1.0"/><circle cx="73.7" cy="71.4" r="1.0"/><circle cx="70.7" cy="68.5" r="1.0"/><circle cx="72.6" cy="73.1" r="1.0"/><circle cx="50.7" cy="76.3" r="1.0"/><circle cx="56.8" cy="78.1" r="1.0"/><circle cx="58.2" cy="72.8" r="1.0"/><circle cx="66.3" cy="71.6" r="1.0"/><circle cx="66.1" cy="70.9" r="1.0"/><circle cx="69.7" cy="72.6" r="1.0"/><circle cx="65.1" cy="63.0" r="1.0"/><circle cx="73.9" cy="72.4" r="1.0"/><circle cx="48.9" cy="74.4" r="1.0"/><circle cx="68.2" cy="76.6" r="1.0"/><circle cx="68.2" cy="64.6" r="1.0"/><circle cx="72.9" cy="64.5" r="1.0"/><circle cx="72.5" cy="62.5" r="1.0"/><circle cx="70.9" cy="60.6" r="1.0"/><circle cx="78.6" cy="61.2" r="1.0"/><circle cx="80.7" cy="60.6" r="1.0"/><circle cx="69.7" cy="60.3" r="1.0"/><circle cx="69.6" cy="61.5" r="1.0"/><circle cx="69.2" cy="63.2" r="1.0"/><circle cx="74.5" cy="60.8" r="1.0"/><circle cx="73.8" cy="61.1" r="1.0"/><circle cx="74.3" cy="62.1" r="1.0"/><circle cx="77.5" cy="59.5" r="1.0"/><circle cx="66.1" cy="65.0" r="1.0"/><circle cx="73.9" cy="62.6" r="1.0"/><circle cx="64.9" cy="63.1" r="1.0"/><circle cx="72.7" cy="59.8" r="1.0"/><circle cx="70.7" cy="63.0" r="1.0"/><circle cx="78.7" cy="62.1" r="1.0"/><circle cx="68.4" cy="60.9" r="1.0"/><circle cx="75.8" cy="62.0" r="1.0"/><circle cx="73.6" cy="59.8" r="1.0"/><circle cx="77.0" cy="61.5" r="1.0"/><circle cx="75.5" cy="60.3" r="1.0"/><circle cx="74.7" cy="62.1" r="1.0"/><circle cx="69.8" cy="60.0" r="1.0"/><circle cx="74.7" cy="61.7" r="1.0"/><circle cx="73.3" cy="62.5" r="1.0"/><circle cx="70.1" cy="62.1" r="1.0"/><circle cx="71.7" cy="62.5" r="1.0"/><circle cx="80.7" cy="59.3" r="1.0"/><circle cx="77.0" cy="61.2" r="1.0"/><circle cx="72.1" cy="60.4" r="1.0"/><circle cx="75.7" cy="62.5" r="1.0"/><circle cx="75.7" cy="61.3" r="1.0"/><circle cx="72.1" cy="61.9" r="1.0"/><circle cx="66.4" cy="64.4" r="1.0"/><circle cx="70.7" cy="60.7" r="1.0"/><circle cx="69.1" cy="61.4" r="1.0"/><circle cx="77.5" cy="61.7" r="1.0"/><circle cx="66.7" cy="64.2" r="1.0"/><circle cx="77.1" cy="59.8" r="1.0"/><circle cx="65.6" cy="62.4" r="1.0"/><circle cx="70.0" cy="62.7" r="1.0"/><circle cx="70.7" cy="59.6" r="1.0"/><circle cx="73.7" cy="59.4" r="1.0"/><circle cx="77.0" cy="59.0" r="1.0"/><circle cx="69.4" cy="61.3" r="1.0"/><circle cx="70.7" cy="63.7" r="1.0"/><circle cx="77.3" cy="61.2" r="1.0"/><circle cx="74.1" cy="59.3" r="1.0"/><circle cx="70.3" cy="61.5" r="1.0"/><circle cx="68.4" cy="63.3" r="1.0"/><circle cx="69.2" cy="61.6" r="1.0"/><circle cx="67.3" cy="60.4" r="1.0"/><circle cx="76.3" cy="62.3" r="1.0"/><circle cx="73.6" cy="60.2" r="1.0"/><circle cx="59.9" cy="65.0" r="1.0"/><circle cx="82.1" cy="68.2" r="1.0"/><circle cx="80.9" cy="71.3" r="1.0"/><circle cx="81.5" cy="66.4" r="1.0"/><circle cx="81.4" cy="69.5" r="1.0"/><circle cx="68.3" cy="67.7" r="1.0"/><circle cx="68.9" cy="68.3" r="1.0"/><circle cx="78.6" cy="65.1" r="1.0"/><circle cx="66.0" cy="72.1" r="1.0"/><circle cx="78.2" cy="71.5" r="1.0"/><circle cx="69.6" cy="71.2" r="1.0"/><circle cx="86.8" cy="72.1" r="1.0"/><circle cx="75.0" cy="68.8" r="1.0"/><circle cx="75.5" cy="70.6" r="1.0"/><circle cx="81.2" cy="67.8" r="1.0"/><circle cx="69.4" cy="70.4" r="1.0"/><circle cx="73.8" cy="69.8" r="1.0"/><circle cx="77.7" cy="71.9" r="1.0"/><circle cx="81.6" cy="66.4" r="1.0"/><circle cx="78.1" cy="72.2" r="1.0"/><circle cx="73.4" cy="69.3" r="1.0"/><circle cx="82.2" cy="70.6" r="1.0"/><circle cx="78.3" cy="64.5" r="1.0"/><circle cx="69.8" cy="69.2" r="1.0"/><circle cx="78.5" cy="74.2" r="1.0"/><circle cx="72.0" cy="71.2" r="1.0"/><circle cx="79.5" cy="63.5" r="1.0"/><circle cx="72.0" cy="68.8" r="1.0"/><circle cx="73.5" cy="67.8" r="1.0"/><circle cx="78.2" cy="65.8" r="1.0"/><circle cx="78.2" cy="66.2" r="1.0"/><circle cx="73.4" cy="69.6" r="1.0"/><circle cx="73.2" cy="69.0" r="1.0"/><circle cx="84.0" cy="67.4" r="1.0"/><circle cx="75.4" cy="69.9" r="1.0"/><circle cx="74.4" cy="70.9" r="1.0"/><circle cx="69.7" cy="70.1" r="1.0"/><circle cx="73.3" cy="66.2" r="1.0"/><circle cx="84.6" cy="65.1" r="1.0"/><circle cx="84.9" cy="68.9" r="1.0"/><circle cx="83.0" cy="64.9" r="1.0"/><circle cx="82.3" cy="71.1" r="1.0"/><circle cx="75.4" cy="67.7" r="1.0"/><circle cx="73.8" cy="66.6" r="1.0"/><circle cx="78.3" cy="68.6" r="1.0"/><circle cx="77.3" cy="72.2" r="1.0"/><circle cx="74.5" cy="69.3" r="1.0"/><circle cx="83.0" cy="64.9" r="1.0"/><circle cx="81.6" cy="72.1" r="1.0"/><circle cx="69.0" cy="65.9" r="1.0"/><circle cx="70.4" cy="63.9" r="1.0"/><circle cx="77.9" cy="63.2" r="1.0"/><circle cx="78.8" cy="71.4" r="1.0"/><circle cx="67.9" cy="67.9" r="1.0"/><circle cx="66.6" cy="70.8" r="1.0"/><circle cx="72.3" cy="67.7" r="1.0"/><circle cx="76.4" cy="69.3" r="1.0"/><circle cx="74.3" cy="68.2" r="1.0"/><circle cx="73.3" cy="68.5" r="1.0"/><circle cx="70.2" cy="68.7" r="1.0"/><circle cx="66.3" cy="67.6" r="1.0"/><circle cx="85.6" cy="67.4" r="1.0"/><circle cx="69.8" cy="69.2" r="1.0"/><circle cx="70.8" cy="64.3" r="1.0"/><circle cx="72.5" cy="70.2" r="1.0"/><circle cx="77.9" cy="67.6" r="1.0"/><circle cx="71.1" cy="65.7" r="1.0"/><circle cx="82.8" cy="68.0" r="1.0"/><circle cx="70.8" cy="63.2" r="1.0"/><circle cx="69.7" cy="74.8" r="1.0"/><circle cx="48.0" cy="75.7" r="1.0"/><circle cx="52.7" cy="75.4" r="1.0"/><circle cx="51.0" cy="70.5" r="1.0"/><circle cx="48.3" cy="82.8" r="1.0"/><circle cx="49.4" cy="79.4" r="1.0"/><circle cx="46.1" cy="74.9" r="1.0"/><circle cx="52.9" cy="80.1" r="1.0"/><circle cx="48.1" cy="78.4" r="1.0"/><circle cx="53.4" cy="73.0" r="1.0"/><circle cx="53.7" cy="72.4" r="1.0"/><circle cx="49.2" cy="75.9" r="1.0"/><circle cx="42.5" cy="75.6" r="1.0"/><circle cx="48.5" cy="70.1" r="1.0"/><circle cx="50.5" cy="79.1" r="1.0"/><circle cx="50.6" cy="81.1" r="1.0"/><circle cx="47.9" cy="70.8" r="1.0"/><circle cx="57.4" cy="77.6" r="1.0"/><circle cx="55.3" cy="72.7" r="1.0"/><circle cx="54.8" cy="77.0" r="1.0"/><circle cx="54.3" cy="76.1" r="1.0"/><circle cx="56.2" cy="73.4" r="1.0"/><circle cx="48.6" cy="70.1" r="1.0"/><circle cx="56.1" cy="73.0" r="1.0"/><circle cx="48.3" cy="72.2" r="1.0"/><circle cx="50.4" cy="70.9" r="1.0"/><circle cx="51.0" cy="73.5" r="1.0"/><circle cx="50.1" cy="72.2" r="1.0"/><circle cx="52.1" cy="74.2" r="1.0"/><circle cx="52.4" cy="77.0" r="1.0"/><circle cx="53.2" cy="67.2" r="1.0"/><circle cx="50.1" cy="72.8" r="1.0"/><circle cx="54.7" cy="69.7" r="1.0"/><circle cx="49.5" cy="74.8" r="1.0"/><circle cx="50.8" cy="80.0" r="1.0"/><circle cx="50.5" cy="79.9" r="1.0"/><circle cx="46.9" cy="68.8" r="1.0"/><circle cx="56.3" cy="77.7" r="1.0"/><circle cx="53.7" cy="76.5" r="1.0"/><circle cx="53.7" cy="71.1" r="1.0"/><circle cx="55.3" cy="73.9" r="1.0"/><circle cx="55.4" cy="76.4" r="1.0"/><circle cx="45.1" cy="70.9" r="1.0"/><circle cx="55.9" cy="75.5" r="1.0"/><circle cx="50.6" cy="77.0" r="1.0"/><circle cx="50.5" cy="73.8" r="1.0"/><circle cx="52.4" cy="76.6" r="1.0"/><circle cx="57.3" cy="76.2" r="1.0"/><circle cx="58.6" cy="83.2" r="1.0"/><circle cx="58.0" cy="80.2" r="1.0"/><circle cx="52.5" cy="76.5" r="1.0"/><circle cx="51.5" cy="73.1" r="1.0"/><circle cx="51.8" cy="73.4" r="1.0"/><circle cx="57.7" cy="78.1" r="1.0"/><circle cx="50.4" cy="68.3" r="1.0"/><circle cx="51.8" cy="74.3" r="1.0"/><circle cx="48.2" cy="71.5" r="1.0"/><circle cx="44.1" cy="78.3" r="1.0"/><circle cx="51.8" cy="86.3" r="1.0"/><circle cx="51.9" cy="75.4" r="1.0"/><circle cx="57.1" cy="76.5" r="1.0"/><circle cx="32.0" cy="78.2" r="1.0"/><circle cx="32.5" cy="87.0" r="1.0"/><circle cx="40.9" cy="82.2" r="1.0"/><circle cx="30.3" cy="81.3" r="1.0"/><circle cx="29.9" cy="86.2" r="1.0"/><circle cx="26.4" cy="86.6" r="1.0"/><circle cx="40.6" cy="80.9" r="1.0"/><circle cx="29.9" cy="86.8" r="1.0"/><circle cx="26.8" cy="80.0" r="1.0"/><circle cx="28.1" cy="88.3" r="1.0"/><circle cx="38.7" cy="72.4" r="1.0"/><circle cx="27.5" cy="81.5" r="1.0"/><circle cx="46.6" cy="74.7" r="1.0"/><circle cx="25.2" cy="76.0" r="1.0"/><circle cx="31.4" cy="86.2" r="1.0"/><circle cx="40.6" cy="72.7" r="1.0"/><circle cx="27.4" cy="80.7" r="1.0"/><circle cx="24.8" cy="89.5" r="1.0"/><circle cx="29.1" cy="87.2" r="1.0"/><circle cx="20.7" cy="81.7" r="1.0"/><circle cx="31.7" cy="76.5" r="1.0"/><circle cx="35.9" cy="77.3" r="1.0"/><circle cx="27.7" cy="86.1" r="1.0"/><circle cx="31.7" cy="70.8" r="1.0"/><circle cx="42.1" cy="75.3" r="1.0"/><circle cx="31.5" cy="71.3" r="1.0"/><circle cx="27.7" cy="81.3" r="1.0"/><circle cx="33.9" cy="71.5" r="1.0"/><circle cx="23.0" cy="76.4" r="1.0"/><circle cx="31.6" cy="82.0" r="1.0"/><circle cx="22.4" cy="83.9" r="1.0"/><circle cx="38.1" cy="83.4" r="1.0"/><circle cx="34.6" cy="76.7" r="1.0"/><circle cx="24.1" cy="81.0" r="1.0"/><circle cx="29.1" cy="82.8" r="1.0"/><circle cx="35.6" cy="85.6" r="1.0"/><circle cx="31.0" cy="75.5" r="1.0"/><circle cx="41.8" cy="77.8" r="1.0"/><circle cx="30.8" cy="77.3" r="1.0"/><circle cx="20.5" cy="83.1" r="1.0"/><circle cx="34.6" cy="74.2" r="1.0"/><circle cx="26.0" cy="85.2" r="1.0"/><circle cx="34.6" cy="81.1" r="1.0"/><circle cx="38.5" cy="82.4" r="1.0"/><circle cx="30.1" cy="86.1" r="1.0"/><circle cx="16.8" cy="99.5" r="1.0"/><circle cx="20.1" cy="95.2" r="1.0"/><circle cx="22.5" cy="92.5" r="1.0"/><circle cx="24.9" cy="94.6" r="1.0"/><circle cx="18.4" cy="93.0" r="1.0"/><circle cx="15.2" cy="95.4" r="1.0"/><circle cx="18.2" cy="95.5" r="1.0"/><circle cx="31.3" cy="89.1" r="1.0"/><circle cx="20.1" cy="90.5" r="1.0"/><circle cx="15.7" cy="95.9" r="1.0"/><circle cx="17.6" cy="91.5" r="1.0"/><circle cx="23.8" cy="89.2" r="1.0"/><circle cx="18.3" cy="85.5" r="1.0"/><circle cx="19.5" cy="95.8" r="1.0"/><circle cx="20.9" cy="96.2" r="1.0"/><circle cx="20.4" cy="94.7" r="1.0"/><circle cx="10.6" cy="97.8" r="1.0"/><circle cx="11.6" cy="102.8" r="1.0"/><circle cx="19.7" cy="93.6" r="1.0"/><circle cx="14.8" cy="95.5" r="1.0"/><circle cx="29.3" cy="95.2" r="1.0"/><circle cx="21.4" cy="98.8" r="1.0"/><circle cx="8.3" cy="105.6" r="1.0"/><circle cx="8.0" cy="110.9" r="1.0"/><circle cx="20.6" cy="106.7" r="1.0"/><circle cx="10.2" cy="111.4" r="1.0"/><circle cx="9.9" cy="114.7" r="1.0"/><circle cx="16.2" cy="103.8" r="1.0"/><circle cx="10.6" cy="108.7" r="1.0"/><circle cx="11.2" cy="102.3" r="1.0"/><circle cx="11.8" cy="111.0" r="1.0"/><circle cx="10.3" cy="98.2" r="1.0"/><circle cx="8.7" cy="106.2" r="1.0"/><circle cx="5.1" cy="105.4" r="1.0"/><circle cx="12.4" cy="112.7" r="1.0"/><circle cx="9.9" cy="112.6" r="1.0"/><circle cx="43.7" cy="50.3" r="1.0"/><circle cx="44.6" cy="52.1" r="1.0"/><circle cx="44.4" cy="49.5" r="1.0"/><circle cx="44.3" cy="47.5" r="1.0"/><circle cx="47.6" cy="52.0" r="1.0"/><circle cx="45.1" cy="58.7" r="1.0"/><circle cx="46.5" cy="44.1" r="1.0"/><circle cx="45.5" cy="53.2" r="1.0"/><circle cx="47.1" cy="55.0" r="1.0"/><circle cx="45.6" cy="45.5" r="1.0"/><circle cx="43.3" cy="51.0" r="1.0"/><circle cx="45.2" cy="46.1" r="1.0"/><circle cx="44.0" cy="48.5" r="1.0"/><circle cx="44.6" cy="51.3" r="1.0"/><circle cx="58.0" cy="43.0" r="1.0"/><circle cx="63.3" cy="45.3" r="1.0"/><circle cx="58.6" cy="44.8" r="1.0"/><circle cx="60.6" cy="44.5" r="1.0"/><circle cx="60.7" cy="43.4" r="1.0"/><circle cx="61.0" cy="44.8" r="1.0"/><circle cx="55.9" cy="45.6" r="1.0"/><circle cx="66.3" cy="45.5" r="1.0"/><circle cx="66.0" cy="44.6" r="1.0"/><circle cx="74.4" cy="52.4" r="1.0"/><circle cx="73.0" cy="52.8" r="1.0"/><circle cx="73.9" cy="54.3" r="1.0"/><circle cx="69.3" cy="54.5" r="1.0"/><circle cx="78.5" cy="55.7" r="1.0"/><circle cx="75.3" cy="54.8" r="1.0"/><circle cx="83.7" cy="69.4" r="1.0"/><circle cx="82.7" cy="67.5" r="1.0"/><circle cx="83.4" cy="69.9" r="1.0"/><circle cx="83.8" cy="67.4" r="1.0"/><circle cx="83.1" cy="70.1" r="1.0"/><circle cx="84.5" cy="66.8" r="1.0"/><circle cx="84.0" cy="72.9" r="1.0"/><circle cx="84.5" cy="68.9" r="1.0"/><circle cx="81.8" cy="69.3" r="1.0"/><circle cx="84.8" cy="74.7" r="1.0"/><circle cx="60.7" cy="92.8" r="1.0"/><circle cx="65.0" cy="97.0" r="1.0"/><circle cx="54.7" cy="92.3" r="1.0"/><circle cx="61.2" cy="99.4" r="1.0"/><circle cx="52.5" cy="90.9" r="1.0"/><circle cx="66.0" cy="89.9" r="1.0"/><circle cx="62.9" cy="97.8" r="1.0"/><circle cx="61.1" cy="90.9" r="1.0"/><circle cx="84.8" cy="78.3" r="1.0"/><circle cx="86.0" cy="75.8" r="1.0"/><circle cx="88.3" cy="71.6" r="1.0"/><circle cx="84.5" cy="80.0" r="1.0"/><circle cx="87.9" cy="77.0" r="1.0"/><circle cx="86.6" cy="77.2" r="1.0"/><circle cx="87.2" cy="88.7" r="1.0"/><circle cx="83.8" cy="82.2" r="1.0"/></g>
<path d="M76.0,13.9 L84.0,13.9 L80.0,20.8Z" fill="#dcdcdc" stroke="#fbfbfb" stroke-width="0.7" stroke-linejoin="round"/><path d="M76.8,14.6 L83.2,14.6 L80.0,19.8Z" fill="#c4c4c4"/><path d="M75.8,13.9 L84.2,13.9" stroke="#555" stroke-width="0.7" fill="none"/><path d="M78.2,14.8 L81.8,14.8 L80.0,17.7Z" fill="#000"/>
<path d="M10.5,28.4 L18.5,28.4 L14.5,35.3Z" fill="#dcdcdc" stroke="#fbfbfb" stroke-width="0.7" stroke-linejoin="round"/><path d="M11.3,29.1 L17.7,29.1 L14.5,34.3Z" fill="#c4c4c4"/><path d="M10.3,28.4 L18.7,28.4" stroke="#555" stroke-width="0.7" fill="none"/><path d="M12.8,29.3 L16.2,29.3 L14.5,32.2Z" fill="#000"/>
<path d="M54.8,27.4 L62.8,27.4 L58.8,34.3Z" fill="#dcdcdc" stroke="#fbfbfb" stroke-width="0.7" stroke-linejoin="round"/><path d="M55.6,28.1 L62.0,28.1 L58.8,33.3Z" fill="#c4c4c4"/><path d="M54.6,27.4 L63.0,27.4" stroke="#555" stroke-width="0.7" fill="none"/><path d="M57.0,28.3 L60.5,28.3 L58.8,31.2Z" fill="#000"/>
<path d="M37.4,35.2 L45.4,35.2 L41.4,42.1Z" fill="#dcdcdc" stroke="#fbfbfb" stroke-width="0.7" stroke-linejoin="round"/><path d="M38.2,35.9 L44.6,35.9 L41.4,41.1Z" fill="#c4c4c4"/><path d="M37.2,35.2 L45.6,35.2" stroke="#555" stroke-width="0.7" fill="none"/><path d="M39.6,36.1 L43.1,36.1 L41.4,39.0Z" fill="#000"/>
<path d="M89.4,37.9 L97.4,37.9 L93.4,44.8Z" fill="#dcdcdc" stroke="#fbfbfb" stroke-width="0.7" stroke-linejoin="round"/><path d="M90.2,38.6 L96.6,38.6 L93.4,43.8Z" fill="#c4c4c4"/><path d="M89.2,37.9 L97.6,37.9" stroke="#555" stroke-width="0.7" fill="none"/><path d="M91.7,38.8 L95.2,38.8 L93.4,41.7Z" fill="#000"/>
<path d="M83.5,61.9 L91.5,61.9 L87.5,68.8Z" fill="#dcdcdc" stroke="#fbfbfb" stroke-width="0.7" stroke-linejoin="round"/><path d="M84.3,62.6 L90.7,62.6 L87.5,67.8Z" fill="#c4c4c4"/><path d="M83.3,61.9 L91.7,61.9" stroke="#555" stroke-width="0.7" fill="none"/><path d="M85.8,62.8 L89.2,62.8 L87.5,65.7Z" fill="#000"/>
<path d="M62.5,75.4 L70.5,75.4 L66.5,82.3Z" fill="#dcdcdc" stroke="#fbfbfb" stroke-width="0.7" stroke-linejoin="round"/><path d="M63.3,76.1 L69.7,76.1 L66.5,81.3Z" fill="#c4c4c4"/><path d="M62.3,75.4 L70.7,75.4" stroke="#555" stroke-width="0.7" fill="none"/><path d="M64.8,76.3 L68.2,76.3 L66.5,79.2Z" fill="#000"/>
<path d="M54.0,87.4 L62.0,87.4 L58.0,94.3Z" fill="#dcdcdc" stroke="#fbfbfb" stroke-width="0.7" stroke-linejoin="round"/><path d="M54.8,88.1 L61.2,88.1 L58.0,93.3Z" fill="#c4c4c4"/><path d="M53.8,87.4 L62.2,87.4" stroke="#555" stroke-width="0.7" fill="none"/><path d="M56.2,88.3 L59.8,88.3 L58.0,91.2Z" fill="#000"/>
<path d="M31.6,98.7 L39.6,98.7 L35.6,105.6Z" fill="#dcdcdc" stroke="#fbfbfb" stroke-width="0.7" stroke-linejoin="round"/><path d="M32.4,99.4 L38.8,99.4 L35.6,104.6Z" fill="#c4c4c4"/><path d="M31.4,98.7 L39.8,98.7" stroke="#555" stroke-width="0.7" fill="none"/><path d="M33.9,99.6 L37.4,99.6 L35.6,102.5Z" fill="#000"/>
<path d="M57.0,101.8 L65.0,101.8 L61.0,108.7Z" fill="#dcdcdc" stroke="#fbfbfb" stroke-width="0.7" stroke-linejoin="round"/><path d="M57.8,102.5 L64.2,102.5 L61.0,107.7Z" fill="#c4c4c4"/><path d="M56.8,101.8 L65.2,101.8" stroke="#555" stroke-width="0.7" fill="none"/><path d="M59.2,102.7 L62.8,102.7 L61.0,105.6Z" fill="#000"/>
<path d="M39.6,108.4 L47.6,108.4 L43.6,115.3Z" fill="#dcdcdc" stroke="#fbfbfb" stroke-width="0.7" stroke-linejoin="round"/><path d="M40.4,109.1 L46.8,109.1 L43.6,114.3Z" fill="#c4c4c4"/><path d="M39.4,108.4 L47.8,108.4" stroke="#555" stroke-width="0.7" fill="none"/><path d="M41.9,109.3 L45.4,109.3 L43.6,112.2Z" fill="#000"/>
<path d="M79.0,112.7 L87.0,112.7 L83.0,119.6Z" fill="#dcdcdc" stroke="#fbfbfb" stroke-width="0.7" stroke-linejoin="round"/><path d="M79.8,113.4 L86.2,113.4 L83.0,118.6Z" fill="#c4c4c4"/><path d="M78.8,112.7 L87.2,112.7" stroke="#555" stroke-width="0.7" fill="none"/><path d="M81.2,113.6 L84.8,113.6 L83.0,116.5Z" fill="#000"/>
<path d="M3.6,116.8 L11.6,116.8 L7.6,123.7Z" fill="#dcdcdc" stroke="#fbfbfb" stroke-width="0.7" stroke-linejoin="round"/><path d="M4.4,117.5 L10.8,117.5 L7.6,122.7Z" fill="#c4c4c4"/><path d="M3.4,116.8 L11.8,116.8" stroke="#555" stroke-width="0.7" fill="none"/><path d="M5.8,117.7 L9.3,117.7 L7.6,120.6Z" fill="#000"/>
<path d="M49.6,127.6 L57.6,127.6 L53.6,134.5Z" fill="#dcdcdc" stroke="#fbfbfb" stroke-width="0.7" stroke-linejoin="round"/><path d="M50.4,128.3 L56.8,128.3 L53.6,133.5Z" fill="#c4c4c4"/><path d="M49.4,127.6 L57.8,127.6" stroke="#555" stroke-width="0.7" fill="none"/><path d="M51.9,128.5 L55.4,128.5 L53.6,131.4Z" fill="#000"/>
<path d="M65.0,129.4 L73.0,129.4 L69.0,136.3Z" fill="#dcdcdc" stroke="#fbfbfb" stroke-width="0.7" stroke-linejoin="round"/><path d="M65.8,130.1 L72.2,130.1 L69.0,135.3Z" fill="#c4c4c4"/><path d="M64.8,129.4 L73.2,129.4" stroke="#555" stroke-width="0.7" fill="none"/><path d="M67.2,130.3 L70.8,130.3 L69.0,133.2Z" fill="#000"/>
<path d="M57.6,56.8 L65.4,56.8 L61.5,63.4Z" fill="#cc08a6" stroke="#5a0046" stroke-width="0.4"/><path d="M59.6,57.8 L63.4,57.8 L61.5,60.7Z" fill="#0c0008"/>
<text x="61.3" y="49.8" transform="rotate(0 61.3 49.8)" text-anchor="middle" font-size="6.3" stroke="#fff" stroke-width="2.0" stroke-linejoin="round" paint-order="stroke" fill="#111" dy="2.2">400</text><text x="31.9" y="69.8" transform="rotate(-78 31.9 69.8)" text-anchor="middle" font-size="6.3" stroke="#fff" stroke-width="2.0" stroke-linejoin="round" paint-order="stroke" fill="#111" dy="2.2">200</text><text x="43" y="66.6" transform="rotate(-85 43 66.6)" text-anchor="middle" font-size="6.3" stroke="#fff" stroke-width="2.0" stroke-linejoin="round" paint-order="stroke" fill="#111" dy="2.2">300</text><text x="53" y="93" transform="rotate(-42 53 93)" text-anchor="middle" font-size="6.3" stroke="#fff" stroke-width="2.0" stroke-linejoin="round" paint-order="stroke" fill="#111" dy="2.2">400</text><text x="68" y="86.6" transform="rotate(-40 68 86.6)" text-anchor="middle" font-size="6.3" stroke="#fff" stroke-width="2.0" stroke-linejoin="round" paint-order="stroke" fill="#111" dy="2.2">300</text><text x="67.5" y="100.6" transform="rotate(-30 67.5 100.6)" text-anchor="middle" font-size="6.3" stroke="#fff" stroke-width="2.0" stroke-linejoin="round" paint-order="stroke" fill="#111" dy="2.2">200</text>
</g>
<rect x="65.2" y="0" width="29.299999999999997" height="16" fill="#fff" stroke="#222" stroke-width="0.7"/>
<text x="79.8" y="11.1" text-anchor="middle" font-weight="bold" font-size="8.3" fill="#111">2019</text>
</g>
<g transform="translate(391.2,5.3)" clip-path="url(#pc)"><g transform="translate(-0.2,-0.3)">
<g clip-path="url(#bc)"><rect x="0" y="0" width="94.5" height="133.0" fill="#f3f8fd"/><ellipse cx="30" cy="112" rx="78" ry="78" fill="#dde9f6"/><ellipse cx="30" cy="112" rx="66" ry="66" fill="#cfe0f2"/><ellipse cx="30" cy="112" rx="56" ry="56" fill="#bfd8ed"/><ellipse cx="30" cy="112" rx="47.5" ry="47.5" fill="#abcfe6"/><ellipse cx="29.86" cy="112" rx="40.64" ry="40.5" fill="#85bbdc"/><ellipse cx="28.91" cy="112" rx="38.09" ry="37" fill="#5fa6d1"/><ellipse cx="27.95" cy="112" rx="35.55" ry="33.5" fill="#3f8fc7"/><ellipse cx="27" cy="112" rx="33" ry="30" fill="#2373b8"/><ellipse cx="27" cy="112" rx="31" ry="28" fill="#1c6aaf"/><ellipse cx="27" cy="112" rx="29.2" ry="26.2" fill="#155fa6"/><ellipse cx="27" cy="112" rx="27.4" ry="24.4" fill="#10569d"/><ellipse cx="27" cy="112" rx="25.6" ry="22.6" fill="#0b4d94"/><ellipse cx="27" cy="112" rx="23.8" ry="20.8" fill="#083c80"/><ellipse cx="27" cy="112" rx="22" ry="19" fill="#08306b"/><ellipse cx="30.00" cy="112" rx="78.00" ry="78" stroke="#48505a" stroke-width="0.48" fill="none"/><ellipse cx="30.00" cy="112" rx="66.00" ry="66" stroke="#48505a" stroke-width="0.48" fill="none"/><ellipse cx="30.00" cy="112" rx="56.00" ry="56" stroke="#48505a" stroke-width="0.48" fill="none"/><ellipse cx="30.00" cy="112" rx="47.50" ry="47.5" stroke="#48505a" stroke-width="0.48" fill="none"/><ellipse cx="29.86" cy="112" rx="40.64" ry="40.5" stroke="#48505a" stroke-width="0.48" fill="none"/><ellipse cx="28.91" cy="112" rx="38.09" ry="37" stroke="#48505a" stroke-width="0.48" fill="none"/><ellipse cx="27.95" cy="112" rx="35.55" ry="33.5" stroke="#48505a" stroke-width="0.48" fill="none"/><ellipse cx="27.00" cy="112" rx="33.00" ry="30" stroke="#48505a" stroke-width="0.48" fill="none"/><ellipse cx="27.00" cy="112" rx="31.00" ry="28" stroke="#48505a" stroke-width="0.48" fill="none"/><ellipse cx="27.00" cy="112" rx="29.20" ry="26.2" stroke="#48505a" stroke-width="0.48" fill="none"/><ellipse cx="27.00" cy="112" rx="27.40" ry="24.4" stroke="#48505a" stroke-width="0.48" fill="none"/><ellipse cx="27.00" cy="112" rx="25.60" ry="22.6" stroke="#48505a" stroke-width="0.48" fill="none"/><ellipse cx="27.00" cy="112" rx="23.80" ry="20.8" stroke="#48505a" stroke-width="0.48" fill="none"/><ellipse cx="27.00" cy="112" rx="22.00" ry="19" stroke="#48505a" stroke-width="0.48" fill="none"/><path d="M64,74 Q69,88 61,100 L58,108 L62,133 L95,133 L95,60Z" fill="#abcfe6"/><path d="M66,72 Q71,88 63,101 L60,108 L62,133 L95,133 L95,60Z" fill="#cadef0"/><path d="M80,70 Q82,92 78,112 L95,114 L95,68Z" fill="#dce9f6"/><rect x="58" y="126.4" width="14" height="5" fill="#5fa6d1"/><path d="M66,72 Q71,88 63,101 L60,108" stroke="#48505a" stroke-width="0.48" fill="none"/><path d="M80,70 Q82,92 78,112" stroke="#48505a" stroke-width="0.48" fill="none"/><use href="#riv"/></g>
<use href="#basin" fill="none" stroke="#1a1a1a" stroke-width="0.9" stroke-linejoin="round"/>
<path d="M76.0,13.9 L84.0,13.9 L80.0,20.8Z" fill="#dcdcdc" stroke="#fbfbfb" stroke-width="0.7" stroke-linejoin="round"/><path d="M76.8,14.6 L83.2,14.6 L80.0,19.8Z" fill="#c4c4c4"/><path d="M75.8,13.9 L84.2,13.9" stroke="#555" stroke-width="0.7" fill="none"/><path d="M78.2,14.8 L81.8,14.8 L80.0,17.7Z" fill="#000"/>
<path d="M10.5,28.4 L18.5,28.4 L14.5,35.3Z" fill="#dcdcdc" stroke="#fbfbfb" stroke-width="0.7" stroke-linejoin="round"/><path d="M11.3,29.1 L17.7,29.1 L14.5,34.3Z" fill="#c4c4c4"/><path d="M10.3,28.4 L18.7,28.4" stroke="#555" stroke-width="0.7" fill="none"/><path d="M12.8,29.3 L16.2,29.3 L14.5,32.2Z" fill="#000"/>
<path d="M54.8,27.4 L62.8,27.4 L58.8,34.3Z" fill="#dcdcdc" stroke="#fbfbfb" stroke-width="0.7" stroke-linejoin="round"/><path d="M55.6,28.1 L62.0,28.1 L58.8,33.3Z" fill="#c4c4c4"/><path d="M54.6,27.4 L63.0,27.4" stroke="#555" stroke-width="0.7" fill="none"/><path d="M57.0,28.3 L60.5,28.3 L58.8,31.2Z" fill="#000"/>
<path d="M37.4,35.2 L45.4,35.2 L41.4,42.1Z" fill="#dcdcdc" stroke="#fbfbfb" stroke-width="0.7" stroke-linejoin="round"/><path d="M38.2,35.9 L44.6,35.9 L41.4,41.1Z" fill="#c4c4c4"/><path d="M37.2,35.2 L45.6,35.2" stroke="#555" stroke-width="0.7" fill="none"/><path d="M39.6,36.1 L43.1,36.1 L41.4,39.0Z" fill="#000"/>
<path d="M89.4,37.9 L97.4,37.9 L93.4,44.8Z" fill="#dcdcdc" stroke="#fbfbfb" stroke-width="0.7" stroke-linejoin="round"/><path d="M90.2,38.6 L96.6,38.6 L93.4,43.8Z" fill="#c4c4c4"/><path d="M89.2,37.9 L97.6,37.9" stroke="#555" stroke-width="0.7" fill="none"/><path d="M91.7,38.8 L95.2,38.8 L93.4,41.7Z" fill="#000"/>
<path d="M83.5,61.9 L91.5,61.9 L87.5,68.8Z" fill="#dcdcdc" stroke="#fbfbfb" stroke-width="0.7" stroke-linejoin="round"/><path d="M84.3,62.6 L90.7,62.6 L87.5,67.8Z" fill="#c4c4c4"/><path d="M83.3,61.9 L91.7,61.9" stroke="#555" stroke-width="0.7" fill="none"/><path d="M85.8,62.8 L89.2,62.8 L87.5,65.7Z" fill="#000"/>
<path d="M62.5,75.4 L70.5,75.4 L66.5,82.3Z" fill="#dcdcdc" stroke="#fbfbfb" stroke-width="0.7" stroke-linejoin="round"/><path d="M63.3,76.1 L69.7,76.1 L66.5,81.3Z" fill="#c4c4c4"/><path d="M62.3,75.4 L70.7,75.4" stroke="#555" stroke-width="0.7" fill="none"/><path d="M64.8,76.3 L68.2,76.3 L66.5,79.2Z" fill="#000"/>
<path d="M54.0,87.4 L62.0,87.4 L58.0,94.3Z" fill="#dcdcdc" stroke="#fbfbfb" stroke-width="0.7" stroke-linejoin="round"/><path d="M54.8,88.1 L61.2,88.1 L58.0,93.3Z" fill="#c4c4c4"/><path d="M53.8,87.4 L62.2,87.4" stroke="#555" stroke-width="0.7" fill="none"/><path d="M56.2,88.3 L59.8,88.3 L58.0,91.2Z" fill="#000"/>
<path d="M31.6,98.7 L39.6,98.7 L35.6,105.6Z" fill="#dcdcdc" stroke="#fbfbfb" stroke-width="0.7" stroke-linejoin="round"/><path d="M32.4,99.4 L38.8,99.4 L35.6,104.6Z" fill="#c4c4c4"/><path d="M31.4,98.7 L39.8,98.7" stroke="#555" stroke-width="0.7" fill="none"/><path d="M33.9,99.6 L37.4,99.6 L35.6,102.5Z" fill="#000"/>
<path d="M57.0,101.8 L65.0,101.8 L61.0,108.7Z" fill="#dcdcdc" stroke="#fbfbfb" stroke-width="0.7" stroke-linejoin="round"/><path d="M57.8,102.5 L64.2,102.5 L61.0,107.7Z" fill="#c4c4c4"/><path d="M56.8,101.8 L65.2,101.8" stroke="#555" stroke-width="0.7" fill="none"/><path d="M59.2,102.7 L62.8,102.7 L61.0,105.6Z" fill="#000"/>
<path d="M39.6,108.4 L47.6,108.4 L43.6,115.3Z" fill="#dcdcdc" stroke="#fbfbfb" stroke-width="0.7" stroke-linejoin="round"/><path d="M40.4,109.1 L46.8,109.1 L43.6,114.3Z" fill="#c4c4c4"/><path d="M39.4,108.4 L47.8,108.4" stroke="#555" stroke-width="0.7" fill="none"/><path d="M41.9,109.3 L45.4,109.3 L43.6,112.2Z" fill="#000"/>
<path d="M79.0,112.7 L87.0,112.7 L83.0,119.6Z" fill="#dcdcdc" stroke="#fbfbfb" stroke-width="0.7" stroke-linejoin="round"/><path d="M79.8,113.4 L86.2,113.4 L83.0,118.6Z" fill="#c4c4c4"/><path d="M78.8,112.7 L87.2,112.7" stroke="#555" stroke-width="0.7" fill="none"/><path d="M81.2,113.6 L84.8,113.6 L83.0,116.5Z" fill="#000"/>
<path d="M3.6,116.8 L11.6,116.8 L7.6,123.7Z" fill="#dcdcdc" stroke="#fbfbfb" stroke-width="0.7" stroke-linejoin="round"/><path d="M4.4,117.5 L10.8,117.5 L7.6,122.7Z" fill="#c4c4c4"/><path d="M3.4,116.8 L11.8,116.8" stroke="#555" stroke-width="0.7" fill="none"/><path d="M5.8,117.7 L9.3,117.7 L7.6,120.6Z" fill="#000"/>
<path d="M49.6,127.6 L57.6,127.6 L53.6,134.5Z" fill="#dcdcdc" stroke="#fbfbfb" stroke-width="0.7" stroke-linejoin="round"/><path d="M50.4,128.3 L56.8,128.3 L53.6,133.5Z" fill="#c4c4c4"/><path d="M49.4,127.6 L57.8,127.6" stroke="#555" stroke-width="0.7" fill="none"/><path d="M51.9,128.5 L55.4,128.5 L53.6,131.4Z" fill="#000"/>
<path d="M65.0,129.4 L73.0,129.4 L69.0,136.3Z" fill="#dcdcdc" stroke="#fbfbfb" stroke-width="0.7" stroke-linejoin="round"/><path d="M65.8,130.1 L72.2,130.1 L69.0,135.3Z" fill="#c4c4c4"/><path d="M64.8,129.4 L73.2,129.4" stroke="#555" stroke-width="0.7" fill="none"/><path d="M67.2,130.3 L70.8,130.3 L69.0,133.2Z" fill="#000"/>
<path d="M26.0,73.4 L34.0,73.4 L30.0,80.3Z" fill="#dcdcdc" stroke="#fbfbfb" stroke-width="0.7" stroke-linejoin="round"/><path d="M26.8,74.1 L33.2,74.1 L30.0,79.3Z" fill="#c4c4c4"/><path d="M25.8,73.4 L34.2,73.4" stroke="#555" stroke-width="0.7" fill="none"/><path d="M28.2,74.3 L31.8,74.3 L30.0,77.2Z" fill="#000"/>
<path d="M57.7,57.8 L65.5,57.8 L61.6,64.4Z" fill="#cc08a6" stroke="#5a0046" stroke-width="0.4"/><path d="M59.7,58.8 L63.5,58.8 L61.6,61.7Z" fill="#0c0008"/>
<text x="52" y="37.5" transform="rotate(8 52 37.5)" text-anchor="middle" font-size="6.3" stroke="#fff" stroke-width="2.0" stroke-linejoin="round" paint-order="stroke" fill="#111" dy="2.2">100</text><text x="62" y="69" transform="rotate(28 62 69)" text-anchor="middle" font-size="6.3" stroke="#fff" stroke-width="2.0" stroke-linejoin="round" paint-order="stroke" fill="#111" dy="2.2">200</text><text x="50.4" y="78.2" transform="rotate(32 50.4 78.2)" text-anchor="middle" font-size="6.3" stroke="#fff" stroke-width="2.0" stroke-linejoin="round" paint-order="stroke" fill="#111" dy="2.2">300</text><text x="55.2" y="93" transform="rotate(72 55.2 93)" text-anchor="middle" font-size="6.3" stroke="#fff" stroke-width="2.0" stroke-linejoin="round" paint-order="stroke" fill="#111" dy="2.2">400</text><text x="24.6" y="85" transform="rotate(-28 24.6 85)" text-anchor="middle" font-size="6.3" stroke="#fff" stroke-width="2.0" stroke-linejoin="round" paint-order="stroke" fill="#111" dy="2.2">500</text>
</g>
<rect x="65.2" y="0" width="29.299999999999997" height="16" fill="#fff" stroke="#222" stroke-width="0.7"/>
<text x="79.8" y="11.1" text-anchor="middle" font-weight="bold" font-size="8.3" fill="#111">2021</text>
</g>
<g transform="translate(13.2,5.3)"><text x="4.9" y="5.5" font-size="4.5" text-anchor="middle" fill="#111">N</text><path d="M5.4,7.2 L1.5,19.4 L5.4,16.9Z" fill="#111"/><path d="M5.4,7.2 L9,19.9 L5.4,16.9Z" fill="#fff" stroke="#111" stroke-width="0.4" stroke-linejoin="round"/></g>
<line x1="107.7" y1="5.3" x2="107.7" y2="138.3" stroke="#262626" stroke-width="0.85"/>
<line x1="202.2" y1="5.3" x2="202.2" y2="138.3" stroke="#262626" stroke-width="0.85"/>
<line x1="296.7" y1="5.3" x2="296.7" y2="138.3" stroke="#262626" stroke-width="0.85"/>
<line x1="391.2" y1="5.3" x2="391.2" y2="138.3" stroke="#262626" stroke-width="0.85"/>
<rect x="13.2" y="5.3" width="472.5" height="133.0" fill="none" stroke="#262626" stroke-width="0.95"/>
<line x1="25.10" y1="211.2" x2="25.10" y2="150.2" stroke="#707070" stroke-width="0.45"/><line x1="27.43" y1="211.2" x2="27.43" y2="203.2" stroke="#5c5c5c" stroke-width="0.45"/><line x1="29.75" y1="211.2" x2="29.75" y2="206.2" stroke="#5c5c5c" stroke-width="0.45"/><line x1="38.28" y1="211.2" x2="38.28" y2="206.2" stroke="#5c5c5c" stroke-width="0.45"/><line x1="40.60" y1="211.2" x2="40.60" y2="205.2" stroke="#5c5c5c" stroke-width="0.45"/><line x1="42.15" y1="211.2" x2="42.15" y2="207.2" stroke="#5c5c5c" stroke-width="0.45"/><line x1="50.68" y1="211.2" x2="50.68" y2="206.2" stroke="#5c5c5c" stroke-width="0.45"/><line x1="51.84" y1="211.2" x2="51.84" y2="207.2" stroke="#5c5c5c" stroke-width="0.45"/><line x1="53.78" y1="211.2" x2="53.78" y2="205.2" stroke="#5c5c5c" stroke-width="0.45"/><line x1="69.28" y1="211.2" x2="69.28" y2="201.2" stroke="#5c5c5c" stroke-width="0.45"/><line x1="74.70" y1="211.2" x2="74.70" y2="203.2" stroke="#5c5c5c" stroke-width="0.45"/><line x1="75.86" y1="211.2" x2="75.86" y2="202.2" stroke="#5c5c5c" stroke-width="0.45"/><line x1="84.39" y1="211.2" x2="84.39" y2="152.2" stroke="#707070" stroke-width="0.45"/><line x1="94.85" y1="211.2" x2="94.85" y2="208.2" stroke="#5c5c5c" stroke-width="0.45"/><line x1="96.40" y1="211.2" x2="96.40" y2="203.2" stroke="#5c5c5c" stroke-width="0.45"/><line x1="102.21" y1="211.2" x2="102.21" y2="150.2" stroke="#707070" stroke-width="0.45"/><line x1="60.16" y1="211.2" x2="60.16" y2="210.4" stroke="#5c5c5c" stroke-width="0.45"/><line x1="96.73" y1="211.2" x2="96.73" y2="210.7" stroke="#5c5c5c" stroke-width="0.45"/><line x1="64.46" y1="211.2" x2="64.46" y2="210.3" stroke="#5c5c5c" stroke-width="0.45"/><line x1="39.41" y1="211.2" x2="39.41" y2="210.5" stroke="#5c5c5c" stroke-width="0.45"/><line x1="73.92" y1="211.2" x2="73.92" y2="209.6" stroke="#5c5c5c" stroke-width="0.45"/><line x1="32.39" y1="211.2" x2="32.39" y2="211.0" stroke="#5c5c5c" stroke-width="0.45"/><line x1="32.13" y1="211.2" x2="32.13" y2="209.6" stroke="#5c5c5c" stroke-width="0.45"/><line x1="78.84" y1="211.2" x2="78.84" y2="211.2" stroke="#5c5c5c" stroke-width="0.45"/><line x1="101.22" y1="211.2" x2="101.22" y2="208.9" stroke="#5c5c5c" stroke-width="0.45"/><line x1="75.78" y1="211.2" x2="75.78" y2="210.3" stroke="#5c5c5c" stroke-width="0.45"/><line x1="37.31" y1="211.2" x2="37.31" y2="211.2" stroke="#5c5c5c" stroke-width="0.45"/><line x1="66.05" y1="211.2" x2="66.05" y2="211.2" stroke="#5c5c5c" stroke-width="0.45"/><line x1="39.84" y1="211.2" x2="39.84" y2="211.1" stroke="#5c5c5c" stroke-width="0.45"/><line x1="27.43" y1="211.2" x2="27.43" y2="210.7" stroke="#5c5c5c" stroke-width="0.45"/><line x1="59.24" y1="211.2" x2="59.24" y2="209.4" stroke="#5c5c5c" stroke-width="0.45"/><line x1="65.33" y1="211.2" x2="65.33" y2="210.2" stroke="#5c5c5c" stroke-width="0.45"/><line x1="63.83" y1="211.2" x2="63.83" y2="210.1" stroke="#5c5c5c" stroke-width="0.45"/><line x1="60.54" y1="211.2" x2="60.54" y2="211.0" stroke="#5c5c5c" stroke-width="0.45"/><line x1="102.42" y1="211.2" x2="102.42" y2="208.7" stroke="#5c5c5c" stroke-width="0.45"/><line x1="90.22" y1="211.2" x2="90.22" y2="209.9" stroke="#5c5c5c" stroke-width="0.45"/><line x1="49.53" y1="211.2" x2="49.53" y2="211.1" stroke="#5c5c5c" stroke-width="0.45"/><line x1="47.50" y1="211.2" x2="47.50" y2="211.2" stroke="#5c5c5c" stroke-width="0.45"/><line x1="84.49" y1="211.2" x2="84.49" y2="210.8" stroke="#5c5c5c" stroke-width="0.45"/><line x1="90.71" y1="211.2" x2="90.71" y2="210.8" stroke="#5c5c5c" stroke-width="0.45"/><line x1="99.35" y1="211.2" x2="99.35" y2="209.4" stroke="#5c5c5c" stroke-width="0.45"/>
<line x1="25.1" y1="149.5" x2="25.1" y2="211.5" stroke="#8c8c8c" stroke-width="0.6"/>
<line x1="23.6" y1="211.2" x2="25.1" y2="211.2" stroke="#8c8c8c" stroke-width="0.5"/>
<line x1="23.6" y1="199.0" x2="25.1" y2="199.0" stroke="#8c8c8c" stroke-width="0.5"/>
<line x1="23.6" y1="186.7" x2="25.1" y2="186.7" stroke="#8c8c8c" stroke-width="0.5"/>
<line x1="23.6" y1="174.5" x2="25.1" y2="174.5" stroke="#8c8c8c" stroke-width="0.5"/>
<line x1="23.6" y1="162.2" x2="25.1" y2="162.2" stroke="#8c8c8c" stroke-width="0.5"/>
<line x1="23.6" y1="150.0" x2="25.1" y2="150.0" stroke="#8c8c8c" stroke-width="0.5"/>
<line x1="24.3" y1="205.1" x2="25.1" y2="205.1" stroke="#a5a5a5" stroke-width="0.4"/>
<line x1="24.3" y1="192.8" x2="25.1" y2="192.8" stroke="#a5a5a5" stroke-width="0.4"/>
<line x1="24.3" y1="180.6" x2="25.1" y2="180.6" stroke="#a5a5a5" stroke-width="0.4"/>
<line x1="24.3" y1="168.4" x2="25.1" y2="168.4" stroke="#a5a5a5" stroke-width="0.4"/>
<line x1="24.3" y1="156.1" x2="25.1" y2="156.1" stroke="#a5a5a5" stroke-width="0.4"/>
<line x1="24.8" y1="211.2" x2="102.6" y2="211.2" stroke="#222" stroke-width="0.75"/>
<line x1="102.6" y1="149.5" x2="102.6" y2="211.5" stroke="#8fb5f0" stroke-width="0.6"/>
<line x1="25.1" y1="211.2" x2="25.1" y2="213.1" stroke="#333" stroke-width="0.5"/>
<text transform="translate(27.4,212.7) rotate(-90)" text-anchor="end" font-size="6.45" fill="#111">01/01/1977</text>
<line x1="44.2" y1="211.2" x2="44.2" y2="213.1" stroke="#333" stroke-width="0.5"/>
<text transform="translate(46.5,212.7) rotate(-90)" text-anchor="end" font-size="6.45" fill="#111">01/04/1977</text>
<line x1="63.5" y1="211.2" x2="63.5" y2="213.1" stroke="#333" stroke-width="0.5"/>
<text transform="translate(65.8,212.7) rotate(-90)" text-anchor="end" font-size="6.45" fill="#111">01/07/1977</text>
<line x1="83.1" y1="211.2" x2="83.1" y2="213.1" stroke="#333" stroke-width="0.5"/>
<text transform="translate(85.4,212.7) rotate(-90)" text-anchor="end" font-size="6.45" fill="#111">01/10/1977</text>
<line x1="102.6" y1="211.2" x2="102.6" y2="213.1" stroke="#333" stroke-width="0.5"/>
<text transform="translate(104.9,212.7) rotate(-90)" text-anchor="end" font-size="6.45" fill="#111">01/01/1978</text>
<line x1="25.1" y1="182.9" x2="102.6" y2="182.9" stroke="#5cc3f2" stroke-width="1.9" stroke-dasharray="9.2 7.6"/>
<path d="M24.8,211.1 L25.8,208.2 L26.7,205.8 L28.7,204.6 L30.3,203.4 L33.9,202.7 L36.3,201.0 L39.9,199.3 L41.1,197.4 L42.3,194.5 L48.3,193.1 L50.2,190.7 L51.9,189.0 L54.3,186.7 L61.4,185.9 L66.2,185.0 L68.6,181.9 L73.4,180.2 L75.1,175.9 L75.8,174.7 L83.0,174.2 L83.7,163.9 L84.2,157.9 L92.5,157.7 L96.6,155.6 L97.3,152.0 L102.1,151.5" fill="none" stroke="#1e6ce6" stroke-width="1.05" stroke-linejoin="round"/>
<line x1="117.30" y1="211.2" x2="117.30" y2="150.2" stroke="#707070" stroke-width="0.45"/><line x1="118.85" y1="211.2" x2="118.85" y2="207.2" stroke="#5c5c5c" stroke-width="0.45"/><line x1="121.17" y1="211.2" x2="121.17" y2="206.2" stroke="#5c5c5c" stroke-width="0.45"/><line x1="124.27" y1="211.2" x2="124.27" y2="208.2" stroke="#5c5c5c" stroke-width="0.45"/><line x1="129.68" y1="211.2" x2="129.68" y2="207.2" stroke="#5c5c5c" stroke-width="0.45"/><line x1="130.07" y1="211.2" x2="130.07" y2="206.2" stroke="#5c5c5c" stroke-width="0.45"/><line x1="140.52" y1="211.2" x2="140.52" y2="208.2" stroke="#5c5c5c" stroke-width="0.45"/><line x1="142.84" y1="211.2" x2="142.84" y2="209.2" stroke="#5c5c5c" stroke-width="0.45"/><line x1="156.77" y1="211.2" x2="156.77" y2="205.2" stroke="#5c5c5c" stroke-width="0.45"/><line x1="160.64" y1="211.2" x2="160.64" y2="208.2" stroke="#5c5c5c" stroke-width="0.45"/><line x1="165.29" y1="211.2" x2="165.29" y2="209.2" stroke="#5c5c5c" stroke-width="0.45"/><line x1="177.28" y1="211.2" x2="177.28" y2="171.2" stroke="#5c5c5c" stroke-width="0.45"/><line x1="178.06" y1="211.2" x2="178.06" y2="196.2" stroke="#5c5c5c" stroke-width="0.45"/><line x1="182.32" y1="211.2" x2="182.32" y2="199.2" stroke="#5c5c5c" stroke-width="0.45"/><line x1="183.48" y1="211.2" x2="183.48" y2="203.2" stroke="#5c5c5c" stroke-width="0.45"/><line x1="184.25" y1="211.2" x2="184.25" y2="204.2" stroke="#5c5c5c" stroke-width="0.45"/><line x1="185.41" y1="211.2" x2="185.41" y2="208.2" stroke="#5c5c5c" stroke-width="0.45"/><line x1="187.73" y1="211.2" x2="187.73" y2="207.2" stroke="#5c5c5c" stroke-width="0.45"/><line x1="117.34" y1="211.2" x2="117.34" y2="211.1" stroke="#5c5c5c" stroke-width="0.45"/><line x1="187.76" y1="211.2" x2="187.76" y2="210.8" stroke="#5c5c5c" stroke-width="0.45"/><line x1="193.18" y1="211.2" x2="193.18" y2="210.9" stroke="#5c5c5c" stroke-width="0.45"/><line x1="122.95" y1="211.2" x2="122.95" y2="210.4" stroke="#5c5c5c" stroke-width="0.45"/><line x1="177.56" y1="211.2" x2="177.56" y2="211.1" stroke="#5c5c5c" stroke-width="0.45"/><line x1="124.04" y1="211.2" x2="124.04" y2="211.0" stroke="#5c5c5c" stroke-width="0.45"/><line x1="191.92" y1="211.2" x2="191.92" y2="210.1" stroke="#5c5c5c" stroke-width="0.45"/><line x1="126.43" y1="211.2" x2="126.43" y2="211.1" stroke="#5c5c5c" stroke-width="0.45"/><line x1="125.12" y1="211.2" x2="125.12" y2="211.2" stroke="#5c5c5c" stroke-width="0.45"/><line x1="178.99" y1="211.2" x2="178.99" y2="211.1" stroke="#5c5c5c" stroke-width="0.45"/><line x1="160.59" y1="211.2" x2="160.59" y2="210.8" stroke="#5c5c5c" stroke-width="0.45"/><line x1="132.06" y1="211.2" x2="132.06" y2="210.1" stroke="#5c5c5c" stroke-width="0.45"/><line x1="127.44" y1="211.2" x2="127.44" y2="210.4" stroke="#5c5c5c" stroke-width="0.45"/><line x1="126.32" y1="211.2" x2="126.32" y2="210.8" stroke="#5c5c5c" stroke-width="0.45"/><line x1="133.78" y1="211.2" x2="133.78" y2="211.1" stroke="#5c5c5c" stroke-width="0.45"/><line x1="192.45" y1="211.2" x2="192.45" y2="209.9" stroke="#5c5c5c" stroke-width="0.45"/><line x1="140.84" y1="211.2" x2="140.84" y2="209.6" stroke="#5c5c5c" stroke-width="0.45"/><line x1="133.61" y1="211.2" x2="133.61" y2="210.9" stroke="#5c5c5c" stroke-width="0.45"/><line x1="183.43" y1="211.2" x2="183.43" y2="210.4" stroke="#5c5c5c" stroke-width="0.45"/><line x1="125.07" y1="211.2" x2="125.07" y2="209.2" stroke="#5c5c5c" stroke-width="0.45"/><line x1="133.81" y1="211.2" x2="133.81" y2="211.1" stroke="#5c5c5c" stroke-width="0.45"/><line x1="177.11" y1="211.2" x2="177.11" y2="211.0" stroke="#5c5c5c" stroke-width="0.45"/><line x1="140.24" y1="211.2" x2="140.24" y2="211.2" stroke="#5c5c5c" stroke-width="0.45"/><line x1="124.28" y1="211.2" x2="124.28" y2="210.5" stroke="#5c5c5c" stroke-width="0.45"/><line x1="136.11" y1="211.2" x2="136.11" y2="210.5" stroke="#5c5c5c" stroke-width="0.45"/>
<line x1="117.3" y1="149.5" x2="117.3" y2="211.5" stroke="#8c8c8c" stroke-width="0.6"/>
<line x1="115.8" y1="211.2" x2="117.3" y2="211.2" stroke="#8c8c8c" stroke-width="0.5"/>
<line x1="115.8" y1="199.0" x2="117.3" y2="199.0" stroke="#8c8c8c" stroke-width="0.5"/>
<line x1="115.8" y1="186.7" x2="117.3" y2="186.7" stroke="#8c8c8c" stroke-width="0.5"/>
<line x1="115.8" y1="174.5" x2="117.3" y2="174.5" stroke="#8c8c8c" stroke-width="0.5"/>
<line x1="115.8" y1="162.2" x2="117.3" y2="162.2" stroke="#8c8c8c" stroke-width="0.5"/>
<line x1="115.8" y1="150.0" x2="117.3" y2="150.0" stroke="#8c8c8c" stroke-width="0.5"/>
<line x1="116.5" y1="205.1" x2="117.3" y2="205.1" stroke="#a5a5a5" stroke-width="0.4"/>
<line x1="116.5" y1="192.8" x2="117.3" y2="192.8" stroke="#a5a5a5" stroke-width="0.4"/>
<line x1="116.5" y1="180.6" x2="117.3" y2="180.6" stroke="#a5a5a5" stroke-width="0.4"/>
<line x1="116.5" y1="168.4" x2="117.3" y2="168.4" stroke="#a5a5a5" stroke-width="0.4"/>
<line x1="116.5" y1="156.1" x2="117.3" y2="156.1" stroke="#a5a5a5" stroke-width="0.4"/>
<line x1="117.0" y1="211.2" x2="194.7" y2="211.2" stroke="#222" stroke-width="0.75"/>
<line x1="194.7" y1="149.5" x2="194.7" y2="211.5" stroke="#8fb5f0" stroke-width="0.6"/>
<line x1="117.3" y1="211.2" x2="117.3" y2="213.1" stroke="#333" stroke-width="0.5"/>
<text transform="translate(119.6,212.7) rotate(-90)" text-anchor="end" font-size="6.45" fill="#111">01/01/2014</text>
<line x1="136.4" y1="211.2" x2="136.4" y2="213.1" stroke="#333" stroke-width="0.5"/>
<text transform="translate(138.7,212.7) rotate(-90)" text-anchor="end" font-size="6.45" fill="#111">01/04/2014</text>
<line x1="155.7" y1="211.2" x2="155.7" y2="213.1" stroke="#333" stroke-width="0.5"/>
<text transform="translate(158.0,212.7) rotate(-90)" text-anchor="end" font-size="6.45" fill="#111">01/07/2014</text>
<line x1="175.2" y1="211.2" x2="175.2" y2="213.1" stroke="#333" stroke-width="0.5"/>
<text transform="translate(177.5,212.7) rotate(-90)" text-anchor="end" font-size="6.45" fill="#111">01/10/2014</text>
<line x1="194.7" y1="211.2" x2="194.7" y2="213.1" stroke="#333" stroke-width="0.5"/>
<text transform="translate(197.0,212.7) rotate(-90)" text-anchor="end" font-size="6.45" fill="#111">01/01/2015</text>
<line x1="117.3" y1="182.9" x2="194.7" y2="182.9" stroke="#5cc3f2" stroke-width="1.9" stroke-dasharray="9.2 7.6"/>
<path d="M117.3,211.2 L119.2,208.3 L120.4,207.1 L122.8,204.7 L124.0,202.4 L126.4,200.0 L130.0,196.8 L138.4,195.6 L140.8,193.7 L143.2,192.3 L151.6,191.6 L155.2,189.9 L157.6,188.7 L162.4,186.8 L165.9,185.6 L176.7,184.8 L177.2,170.5 L181.5,170.5 L182.7,164.0 L183.9,159.2 L187.5,154.9 L191.1,153.2 L194.7,152.9" fill="none" stroke="#1e6ce6" stroke-width="1.05" stroke-linejoin="round"/>
<line x1="209.40" y1="211.2" x2="209.40" y2="150.2" stroke="#707070" stroke-width="0.45"/><line x1="217.89" y1="211.2" x2="217.89" y2="206.2" stroke="#5c5c5c" stroke-width="0.45"/><line x1="220.98" y1="211.2" x2="220.98" y2="208.2" stroke="#5c5c5c" stroke-width="0.45"/><line x1="222.14" y1="211.2" x2="222.14" y2="207.2" stroke="#5c5c5c" stroke-width="0.45"/><line x1="237.19" y1="211.2" x2="237.19" y2="203.2" stroke="#5c5c5c" stroke-width="0.45"/><line x1="255.72" y1="211.2" x2="255.72" y2="208.2" stroke="#5c5c5c" stroke-width="0.45"/><line x1="263.44" y1="211.2" x2="263.44" y2="205.2" stroke="#5c5c5c" stroke-width="0.45"/><line x1="269.62" y1="211.2" x2="269.62" y2="203.2" stroke="#5c5c5c" stroke-width="0.45"/><line x1="277.72" y1="211.2" x2="277.72" y2="206.2" stroke="#5c5c5c" stroke-width="0.45"/><line x1="278.49" y1="211.2" x2="278.49" y2="197.2" stroke="#5c5c5c" stroke-width="0.45"/><line x1="278.88" y1="211.2" x2="278.88" y2="205.2" stroke="#5c5c5c" stroke-width="0.45"/><line x1="286.21" y1="211.2" x2="286.21" y2="150.2" stroke="#707070" stroke-width="0.45"/><line x1="238.10" y1="211.2" x2="238.10" y2="210.8" stroke="#5c5c5c" stroke-width="0.45"/><line x1="283.45" y1="211.2" x2="283.45" y2="210.7" stroke="#5c5c5c" stroke-width="0.45"/><line x1="253.76" y1="211.2" x2="253.76" y2="209.7" stroke="#5c5c5c" stroke-width="0.45"/><line x1="223.51" y1="211.2" x2="223.51" y2="211.2" stroke="#5c5c5c" stroke-width="0.45"/><line x1="279.53" y1="211.2" x2="279.53" y2="209.9" stroke="#5c5c5c" stroke-width="0.45"/><line x1="228.66" y1="211.2" x2="228.66" y2="211.1" stroke="#5c5c5c" stroke-width="0.45"/><line x1="266.48" y1="211.2" x2="266.48" y2="209.4" stroke="#5c5c5c" stroke-width="0.45"/><line x1="224.58" y1="211.2" x2="224.58" y2="209.4" stroke="#5c5c5c" stroke-width="0.45"/><line x1="277.51" y1="211.2" x2="277.51" y2="210.5" stroke="#5c5c5c" stroke-width="0.45"/><line x1="241.94" y1="211.2" x2="241.94" y2="211.2" stroke="#5c5c5c" stroke-width="0.45"/><line x1="212.39" y1="211.2" x2="212.39" y2="209.3" stroke="#5c5c5c" stroke-width="0.45"/><line x1="227.81" y1="211.2" x2="227.81" y2="210.2" stroke="#5c5c5c" stroke-width="0.45"/><line x1="229.24" y1="211.2" x2="229.24" y2="209.8" stroke="#5c5c5c" stroke-width="0.45"/><line x1="255.45" y1="211.2" x2="255.45" y2="211.0" stroke="#5c5c5c" stroke-width="0.45"/><line x1="222.94" y1="211.2" x2="222.94" y2="210.2" stroke="#5c5c5c" stroke-width="0.45"/><line x1="214.71" y1="211.2" x2="214.71" y2="211.1" stroke="#5c5c5c" stroke-width="0.45"/><line x1="252.58" y1="211.2" x2="252.58" y2="209.7" stroke="#5c5c5c" stroke-width="0.45"/><line x1="256.82" y1="211.2" x2="256.82" y2="211.0" stroke="#5c5c5c" stroke-width="0.45"/><line x1="280.22" y1="211.2" x2="280.22" y2="211.1" stroke="#5c5c5c" stroke-width="0.45"/><line x1="210.68" y1="211.2" x2="210.68" y2="211.1" stroke="#5c5c5c" stroke-width="0.45"/><line x1="243.81" y1="211.2" x2="243.81" y2="211.2" stroke="#5c5c5c" stroke-width="0.45"/><line x1="223.01" y1="211.2" x2="223.01" y2="210.9" stroke="#5c5c5c" stroke-width="0.45"/>
<line x1="209.4" y1="149.5" x2="209.4" y2="211.5" stroke="#8c8c8c" stroke-width="0.6"/>
<line x1="207.9" y1="211.2" x2="209.4" y2="211.2" stroke="#8c8c8c" stroke-width="0.5"/>
<line x1="207.9" y1="199.0" x2="209.4" y2="199.0" stroke="#8c8c8c" stroke-width="0.5"/>
<line x1="207.9" y1="186.7" x2="209.4" y2="186.7" stroke="#8c8c8c" stroke-width="0.5"/>
<line x1="207.9" y1="174.5" x2="209.4" y2="174.5" stroke="#8c8c8c" stroke-width="0.5"/>
<line x1="207.9" y1="162.2" x2="209.4" y2="162.2" stroke="#8c8c8c" stroke-width="0.5"/>
<line x1="207.9" y1="150.0" x2="209.4" y2="150.0" stroke="#8c8c8c" stroke-width="0.5"/>
<line x1="208.6" y1="205.1" x2="209.4" y2="205.1" stroke="#a5a5a5" stroke-width="0.4"/>
<line x1="208.6" y1="192.8" x2="209.4" y2="192.8" stroke="#a5a5a5" stroke-width="0.4"/>
<line x1="208.6" y1="180.6" x2="209.4" y2="180.6" stroke="#a5a5a5" stroke-width="0.4"/>
<line x1="208.6" y1="168.4" x2="209.4" y2="168.4" stroke="#a5a5a5" stroke-width="0.4"/>
<line x1="208.6" y1="156.1" x2="209.4" y2="156.1" stroke="#a5a5a5" stroke-width="0.4"/>
<line x1="209.1" y1="211.2" x2="286.6" y2="211.2" stroke="#222" stroke-width="0.75"/>
<line x1="286.6" y1="149.5" x2="286.6" y2="211.5" stroke="#8fb5f0" stroke-width="0.6"/>
<line x1="209.4" y1="211.2" x2="209.4" y2="213.1" stroke="#333" stroke-width="0.5"/>
<text transform="translate(211.7,212.7) rotate(-90)" text-anchor="end" font-size="6.45" fill="#111">01/01/2016</text>
<line x1="228.4" y1="211.2" x2="228.4" y2="213.1" stroke="#333" stroke-width="0.5"/>
<text transform="translate(230.7,212.7) rotate(-90)" text-anchor="end" font-size="6.45" fill="#111">01/04/2016</text>
<line x1="247.7" y1="211.2" x2="247.7" y2="213.1" stroke="#333" stroke-width="0.5"/>
<text transform="translate(250.0,212.7) rotate(-90)" text-anchor="end" font-size="6.45" fill="#111">01/07/2016</text>
<line x1="267.1" y1="211.2" x2="267.1" y2="213.1" stroke="#333" stroke-width="0.5"/>
<text transform="translate(269.4,212.7) rotate(-90)" text-anchor="end" font-size="6.45" fill="#111">01/10/2016</text>
<line x1="286.6" y1="211.2" x2="286.6" y2="213.1" stroke="#333" stroke-width="0.5"/>
<text transform="translate(288.9,212.7) rotate(-90)" text-anchor="end" font-size="6.45" fill="#111">01/01/2017</text>
<line x1="209.4" y1="182.9" x2="286.6" y2="182.9" stroke="#5cc3f2" stroke-width="1.9" stroke-dasharray="9.2 7.6"/>
<path d="M209.4,211.2 L215.4,210.0 L219.0,207.9 L221.4,205.2 L222.6,203.5 L234.6,201.9 L236.2,200.0 L238.2,199.2 L250.2,198.3 L262.1,197.6 L264.5,195.6 L269.3,195.2 L271.7,192.3 L277.7,190.8 L278.9,185.6 L283.7,184.4 L286.1,183.2" fill="none" stroke="#1e6ce6" stroke-width="1.05" stroke-linejoin="round"/>
<line x1="301.30" y1="211.2" x2="301.30" y2="150.2" stroke="#707070" stroke-width="0.45"/><line x1="319.88" y1="211.2" x2="319.88" y2="209.2" stroke="#5c5c5c" stroke-width="0.45"/><line x1="324.52" y1="211.2" x2="324.52" y2="208.2" stroke="#5c5c5c" stroke-width="0.45"/><line x1="326.84" y1="211.2" x2="326.84" y2="209.2" stroke="#5c5c5c" stroke-width="0.45"/><line x1="329.94" y1="211.2" x2="329.94" y2="209.2" stroke="#5c5c5c" stroke-width="0.45"/><line x1="332.26" y1="211.2" x2="332.26" y2="209.2" stroke="#5c5c5c" stroke-width="0.45"/><line x1="342.32" y1="211.2" x2="342.32" y2="208.2" stroke="#5c5c5c" stroke-width="0.45"/><line x1="350.84" y1="211.2" x2="350.84" y2="209.2" stroke="#5c5c5c" stroke-width="0.45"/><line x1="360.12" y1="211.2" x2="360.12" y2="208.2" stroke="#5c5c5c" stroke-width="0.45"/><line x1="361.67" y1="211.2" x2="361.67" y2="201.2" stroke="#5c5c5c" stroke-width="0.45"/><line x1="363.22" y1="211.2" x2="363.22" y2="152.2" stroke="#707070" stroke-width="0.45"/><line x1="365.54" y1="211.2" x2="365.54" y2="207.2" stroke="#5c5c5c" stroke-width="0.45"/><line x1="367.09" y1="211.2" x2="367.09" y2="206.2" stroke="#5c5c5c" stroke-width="0.45"/><line x1="368.64" y1="211.2" x2="368.64" y2="203.2" stroke="#5c5c5c" stroke-width="0.45"/><line x1="369.80" y1="211.2" x2="369.80" y2="197.2" stroke="#5c5c5c" stroke-width="0.45"/><line x1="370.57" y1="211.2" x2="370.57" y2="201.2" stroke="#5c5c5c" stroke-width="0.45"/><line x1="370.96" y1="211.2" x2="370.96" y2="206.2" stroke="#5c5c5c" stroke-width="0.45"/><line x1="372.51" y1="211.2" x2="372.51" y2="207.2" stroke="#5c5c5c" stroke-width="0.45"/><line x1="375.99" y1="211.2" x2="375.99" y2="208.2" stroke="#5c5c5c" stroke-width="0.45"/><line x1="345.59" y1="211.2" x2="345.59" y2="211.2" stroke="#5c5c5c" stroke-width="0.45"/><line x1="329.33" y1="211.2" x2="329.33" y2="209.8" stroke="#5c5c5c" stroke-width="0.45"/><line x1="377.19" y1="211.2" x2="377.19" y2="210.4" stroke="#5c5c5c" stroke-width="0.45"/><line x1="354.80" y1="211.2" x2="354.80" y2="210.6" stroke="#5c5c5c" stroke-width="0.45"/><line x1="312.16" y1="211.2" x2="312.16" y2="211.2" stroke="#5c5c5c" stroke-width="0.45"/><line x1="302.69" y1="211.2" x2="302.69" y2="209.7" stroke="#5c5c5c" stroke-width="0.45"/><line x1="355.56" y1="211.2" x2="355.56" y2="209.5" stroke="#5c5c5c" stroke-width="0.45"/><line x1="302.95" y1="211.2" x2="302.95" y2="210.5" stroke="#5c5c5c" stroke-width="0.45"/><line x1="338.63" y1="211.2" x2="338.63" y2="210.2" stroke="#5c5c5c" stroke-width="0.45"/><line x1="325.98" y1="211.2" x2="325.98" y2="209.4" stroke="#5c5c5c" stroke-width="0.45"/><line x1="307.13" y1="211.2" x2="307.13" y2="210.7" stroke="#5c5c5c" stroke-width="0.45"/><line x1="358.34" y1="211.2" x2="358.34" y2="209.7" stroke="#5c5c5c" stroke-width="0.45"/><line x1="358.35" y1="211.2" x2="358.35" y2="210.3" stroke="#5c5c5c" stroke-width="0.45"/><line x1="362.70" y1="211.2" x2="362.70" y2="209.7" stroke="#5c5c5c" stroke-width="0.45"/><line x1="328.53" y1="211.2" x2="328.53" y2="210.4" stroke="#5c5c5c" stroke-width="0.45"/><line x1="371.02" y1="211.2" x2="371.02" y2="209.8" stroke="#5c5c5c" stroke-width="0.45"/><line x1="333.59" y1="211.2" x2="333.59" y2="210.1" stroke="#5c5c5c" stroke-width="0.45"/><line x1="368.13" y1="211.2" x2="368.13" y2="210.6" stroke="#5c5c5c" stroke-width="0.45"/><line x1="349.67" y1="211.2" x2="349.67" y2="210.9" stroke="#5c5c5c" stroke-width="0.45"/><line x1="346.40" y1="211.2" x2="346.40" y2="210.5" stroke="#5c5c5c" stroke-width="0.45"/>
<line x1="301.3" y1="149.5" x2="301.3" y2="211.5" stroke="#8c8c8c" stroke-width="0.6"/>
<line x1="299.8" y1="211.2" x2="301.3" y2="211.2" stroke="#8c8c8c" stroke-width="0.5"/>
<line x1="299.8" y1="199.0" x2="301.3" y2="199.0" stroke="#8c8c8c" stroke-width="0.5"/>
<line x1="299.8" y1="186.7" x2="301.3" y2="186.7" stroke="#8c8c8c" stroke-width="0.5"/>
<line x1="299.8" y1="174.5" x2="301.3" y2="174.5" stroke="#8c8c8c" stroke-width="0.5"/>
<line x1="299.8" y1="162.2" x2="301.3" y2="162.2" stroke="#8c8c8c" stroke-width="0.5"/>
<line x1="299.8" y1="150.0" x2="301.3" y2="150.0" stroke="#8c8c8c" stroke-width="0.5"/>
<line x1="300.5" y1="205.1" x2="301.3" y2="205.1" stroke="#a5a5a5" stroke-width="0.4"/>
<line x1="300.5" y1="192.8" x2="301.3" y2="192.8" stroke="#a5a5a5" stroke-width="0.4"/>
<line x1="300.5" y1="180.6" x2="301.3" y2="180.6" stroke="#a5a5a5" stroke-width="0.4"/>
<line x1="300.5" y1="168.4" x2="301.3" y2="168.4" stroke="#a5a5a5" stroke-width="0.4"/>
<line x1="300.5" y1="156.1" x2="301.3" y2="156.1" stroke="#a5a5a5" stroke-width="0.4"/>
<line x1="301.0" y1="211.2" x2="378.7" y2="211.2" stroke="#222" stroke-width="0.75"/>
<line x1="378.7" y1="149.5" x2="378.7" y2="211.5" stroke="#8fb5f0" stroke-width="0.6"/>
<line x1="301.3" y1="211.2" x2="301.3" y2="213.1" stroke="#333" stroke-width="0.5"/>
<text transform="translate(303.6,212.7) rotate(-90)" text-anchor="end" font-size="6.45" fill="#111">01/01/2019</text>
<line x1="320.4" y1="211.2" x2="320.4" y2="213.1" stroke="#333" stroke-width="0.5"/>
<text transform="translate(322.7,212.7) rotate(-90)" text-anchor="end" font-size="6.45" fill="#111">01/04/2019</text>
<line x1="339.7" y1="211.2" x2="339.7" y2="213.1" stroke="#333" stroke-width="0.5"/>
<text transform="translate(342.0,212.7) rotate(-90)" text-anchor="end" font-size="6.45" fill="#111">01/07/2019</text>
<line x1="359.2" y1="211.2" x2="359.2" y2="213.1" stroke="#333" stroke-width="0.5"/>
<text transform="translate(361.5,212.7) rotate(-90)" text-anchor="end" font-size="6.45" fill="#111">01/10/2019</text>
<line x1="378.7" y1="211.2" x2="378.7" y2="213.1" stroke="#333" stroke-width="0.5"/>
<text transform="translate(381.0,212.7) rotate(-90)" text-anchor="end" font-size="6.45" fill="#111">01/01/2020</text>
<line x1="301.3" y1="182.9" x2="378.7" y2="182.9" stroke="#5cc3f2" stroke-width="1.9" stroke-dasharray="9.2 7.6"/>
<path d="M301.3,211.5 L306.8,210.7 L308.7,209.5 L320.0,209.1 L323.6,207.6 L327.2,205.2 L329.6,203.5 L333.2,202.4 L341.6,201.9 L342.8,200.4 L351.2,200.0 L360.7,198.8 L361.9,196.4 L362.7,185.6 L363.1,177.2 L366.7,175.5 L368.2,171.2 L369.1,167.6 L371.5,162.1 L375.1,160.4 L376.3,158.0 L378.7,157.3" fill="none" stroke="#1e6ce6" stroke-width="1.05" stroke-linejoin="round"/>
<line x1="392.90" y1="211.2" x2="392.90" y2="150.2" stroke="#707070" stroke-width="0.45"/><line x1="397.16" y1="211.2" x2="397.16" y2="207.2" stroke="#5c5c5c" stroke-width="0.45"/><line x1="399.09" y1="211.2" x2="399.09" y2="208.2" stroke="#5c5c5c" stroke-width="0.45"/><line x1="400.64" y1="211.2" x2="400.64" y2="208.2" stroke="#5c5c5c" stroke-width="0.45"/><line x1="414.19" y1="211.2" x2="414.19" y2="207.2" stroke="#5c5c5c" stroke-width="0.45"/><line x1="419.99" y1="211.2" x2="419.99" y2="209.2" stroke="#5c5c5c" stroke-width="0.45"/><line x1="422.31" y1="211.2" x2="422.31" y2="209.2" stroke="#5c5c5c" stroke-width="0.45"/><line x1="436.24" y1="211.2" x2="436.24" y2="203.2" stroke="#5c5c5c" stroke-width="0.45"/><line x1="436.63" y1="211.2" x2="436.63" y2="206.2" stroke="#5c5c5c" stroke-width="0.45"/><line x1="451.34" y1="211.2" x2="451.34" y2="197.2" stroke="#5c5c5c" stroke-width="0.45"/><line x1="457.14" y1="211.2" x2="457.14" y2="207.2" stroke="#5c5c5c" stroke-width="0.45"/><line x1="459.46" y1="211.2" x2="459.46" y2="209.2" stroke="#5c5c5c" stroke-width="0.45"/><line x1="462.56" y1="211.2" x2="462.56" y2="209.2" stroke="#5c5c5c" stroke-width="0.45"/><line x1="467.98" y1="211.2" x2="467.98" y2="209.2" stroke="#5c5c5c" stroke-width="0.45"/><line x1="469.91" y1="211.2" x2="469.91" y2="150.2" stroke="#707070" stroke-width="0.45"/><line x1="399.11" y1="211.2" x2="399.11" y2="210.5" stroke="#5c5c5c" stroke-width="0.45"/><line x1="469.78" y1="211.2" x2="469.78" y2="210.0" stroke="#5c5c5c" stroke-width="0.45"/><line x1="449.26" y1="211.2" x2="449.26" y2="211.0" stroke="#5c5c5c" stroke-width="0.45"/><line x1="449.79" y1="211.2" x2="449.79" y2="210.7" stroke="#5c5c5c" stroke-width="0.45"/><line x1="427.00" y1="211.2" x2="427.00" y2="210.1" stroke="#5c5c5c" stroke-width="0.45"/><line x1="399.38" y1="211.2" x2="399.38" y2="210.3" stroke="#5c5c5c" stroke-width="0.45"/><line x1="395.21" y1="211.2" x2="395.21" y2="210.6" stroke="#5c5c5c" stroke-width="0.45"/><line x1="430.13" y1="211.2" x2="430.13" y2="211.1" stroke="#5c5c5c" stroke-width="0.45"/><line x1="446.95" y1="211.2" x2="446.95" y2="210.8" stroke="#5c5c5c" stroke-width="0.45"/><line x1="440.46" y1="211.2" x2="440.46" y2="209.8" stroke="#5c5c5c" stroke-width="0.45"/><line x1="412.70" y1="211.2" x2="412.70" y2="211.2" stroke="#5c5c5c" stroke-width="0.45"/><line x1="416.20" y1="211.2" x2="416.20" y2="210.5" stroke="#5c5c5c" stroke-width="0.45"/><line x1="408.58" y1="211.2" x2="408.58" y2="211.2" stroke="#5c5c5c" stroke-width="0.45"/><line x1="463.00" y1="211.2" x2="463.00" y2="210.5" stroke="#5c5c5c" stroke-width="0.45"/><line x1="427.11" y1="211.2" x2="427.11" y2="209.9" stroke="#5c5c5c" stroke-width="0.45"/><line x1="418.21" y1="211.2" x2="418.21" y2="210.5" stroke="#5c5c5c" stroke-width="0.45"/><line x1="408.26" y1="211.2" x2="408.26" y2="210.9" stroke="#5c5c5c" stroke-width="0.45"/><line x1="455.28" y1="211.2" x2="455.28" y2="209.9" stroke="#5c5c5c" stroke-width="0.45"/><line x1="461.03" y1="211.2" x2="461.03" y2="211.0" stroke="#5c5c5c" stroke-width="0.45"/><line x1="438.03" y1="211.2" x2="438.03" y2="211.0" stroke="#5c5c5c" stroke-width="0.45"/>
<line x1="392.9" y1="149.5" x2="392.9" y2="211.5" stroke="#8c8c8c" stroke-width="0.6"/>
<line x1="391.4" y1="211.2" x2="392.9" y2="211.2" stroke="#8c8c8c" stroke-width="0.5"/>
<line x1="391.4" y1="199.0" x2="392.9" y2="199.0" stroke="#8c8c8c" stroke-width="0.5"/>
<line x1="391.4" y1="186.7" x2="392.9" y2="186.7" stroke="#8c8c8c" stroke-width="0.5"/>
<line x1="391.4" y1="174.5" x2="392.9" y2="174.5" stroke="#8c8c8c" stroke-width="0.5"/>
<line x1="391.4" y1="162.2" x2="392.9" y2="162.2" stroke="#8c8c8c" stroke-width="0.5"/>
<line x1="391.4" y1="150.0" x2="392.9" y2="150.0" stroke="#8c8c8c" stroke-width="0.5"/>
<line x1="392.09999999999997" y1="205.1" x2="392.9" y2="205.1" stroke="#a5a5a5" stroke-width="0.4"/>
<line x1="392.09999999999997" y1="192.8" x2="392.9" y2="192.8" stroke="#a5a5a5" stroke-width="0.4"/>
<line x1="392.09999999999997" y1="180.6" x2="392.9" y2="180.6" stroke="#a5a5a5" stroke-width="0.4"/>
<line x1="392.09999999999997" y1="168.4" x2="392.9" y2="168.4" stroke="#a5a5a5" stroke-width="0.4"/>
<line x1="392.09999999999997" y1="156.1" x2="392.9" y2="156.1" stroke="#a5a5a5" stroke-width="0.4"/>
<line x1="392.59999999999997" y1="211.2" x2="470.3" y2="211.2" stroke="#222" stroke-width="0.75"/>
<line x1="470.3" y1="149.5" x2="470.3" y2="211.5" stroke="#8fb5f0" stroke-width="0.6"/>
<line x1="392.9" y1="211.2" x2="392.9" y2="213.1" stroke="#333" stroke-width="0.5"/>
<text transform="translate(395.2,212.7) rotate(-90)" text-anchor="end" font-size="6.45" fill="#111">01/01/2021</text>
<line x1="412.0" y1="211.2" x2="412.0" y2="213.1" stroke="#333" stroke-width="0.5"/>
<text transform="translate(414.3,212.7) rotate(-90)" text-anchor="end" font-size="6.45" fill="#111">01/04/2021</text>
<line x1="431.3" y1="211.2" x2="431.3" y2="213.1" stroke="#333" stroke-width="0.5"/>
<text transform="translate(433.6,212.7) rotate(-90)" text-anchor="end" font-size="6.45" fill="#111">01/07/2021</text>
<line x1="450.8" y1="211.2" x2="450.8" y2="213.1" stroke="#333" stroke-width="0.5"/>
<text transform="translate(453.1,212.7) rotate(-90)" text-anchor="end" font-size="6.45" fill="#111">01/10/2021</text>
<line x1="470.3" y1="211.2" x2="470.3" y2="213.1" stroke="#333" stroke-width="0.5"/>
<text transform="translate(472.6,212.7) rotate(-90)" text-anchor="end" font-size="6.45" fill="#111">01/01/2022</text>
<line x1="392.9" y1="182.9" x2="470.3" y2="182.9" stroke="#5cc3f2" stroke-width="1.9" stroke-dasharray="9.2 7.6"/>
<path d="M392.9,209.5 L397.2,208.3 L399.6,205.9 L402.0,204.7 L414.0,204.7 L415.2,203.1 L421.2,201.4 L435.6,201.2 L438.0,198.8 L451.2,198.3 L451.9,194.0 L457.1,193.2 L460.7,190.4 L466.7,188.7 L470.3,188.0" fill="none" stroke="#1e6ce6" stroke-width="1.05" stroke-linejoin="round"/>
<text x="22.3" y="213.3" text-anchor="end" font-size="6" font-weight="bold" fill="#111">0</text>
<text x="22.3" y="201.1" text-anchor="end" font-size="6" font-weight="bold" fill="#111">100</text>
<text x="22.3" y="188.9" text-anchor="end" font-size="6" font-weight="bold" fill="#111">200</text>
<text x="22.3" y="176.6" text-anchor="end" font-size="6" font-weight="bold" fill="#111">300</text>
<text x="22.3" y="164.4" text-anchor="end" font-size="6" font-weight="bold" fill="#111">400</text>
<text x="22.3" y="152.2" text-anchor="end" font-size="6" font-weight="bold" fill="#111">500</text>
<text transform="translate(10.2,176.8) rotate(-90)" text-anchor="middle" font-size="5.9" font-weight="bold" fill="#111">Daily rainfall [mm/day]</text>
<line x1="470.3" y1="149.5" x2="470.3" y2="211.5" stroke="#4a86ee" stroke-width="0.6"/>
<line x1="470.3" y1="211.2" x2="471.8" y2="211.2" stroke="#4a86ee" stroke-width="0.5"/>
<text x="473.9" y="213.2" font-size="5.9" font-weight="bold" fill="#1e6ce6">0</text>
<line x1="470.3" y1="195.9" x2="471.8" y2="195.9" stroke="#4a86ee" stroke-width="0.5"/>
<text x="473.9" y="197.9" font-size="5.9" font-weight="bold" fill="#1e6ce6">500</text>
<line x1="470.3" y1="180.6" x2="471.8" y2="180.6" stroke="#4a86ee" stroke-width="0.5"/>
<text x="473.9" y="182.6" font-size="5.9" font-weight="bold" fill="#1e6ce6">1000</text>
<line x1="470.3" y1="165.3" x2="471.8" y2="165.3" stroke="#4a86ee" stroke-width="0.5"/>
<text x="473.9" y="167.3" font-size="5.9" font-weight="bold" fill="#1e6ce6">1500</text>
<line x1="470.3" y1="150.0" x2="471.8" y2="150.0" stroke="#4a86ee" stroke-width="0.5"/>
<text x="473.9" y="152.0" font-size="5.9" font-weight="bold" fill="#1e6ce6">2000</text>
<text transform="translate(494.1,180.4) rotate(-90)" text-anchor="middle" font-size="6.4" font-weight="bold" fill="#1e6ce6">Cumulative rainfall [mm]</text>
<text x="443.1" y="179.7" font-size="6.3" font-weight="bold" fill="#62c0f2">950 mm</text>
<text x="12.9" y="259.1" font-size="8" fill="#111">Maximum rainfall intensity [mm/day]</text>
<rect x="12.80" y="264.7" width="11.07" height="8.5" fill="#f7fbff"/>
<text transform="translate(20.0,276.6) rotate(-90)" text-anchor="end" font-size="5.75" fill="#333" word-spacing="0.7">0 - 100</text>
<rect x="23.77" y="264.7" width="11.07" height="8.5" fill="#e1edf8"/>
<text transform="translate(31.0,276.6) rotate(-90)" text-anchor="end" font-size="5.75" fill="#333" word-spacing="0.7">100 - 150</text>
<rect x="34.74" y="264.7" width="11.07" height="8.5" fill="#cadef0"/>
<text transform="translate(41.9,276.6) rotate(-90)" text-anchor="end" font-size="5.75" fill="#333" word-spacing="0.7">150 - 200</text>
<rect x="45.71" y="264.7" width="11.07" height="8.5" fill="#abcfe6"/>
<text transform="translate(52.9,276.6) rotate(-90)" text-anchor="end" font-size="5.75" fill="#333" word-spacing="0.7">200 - 250</text>
<rect x="56.68" y="264.7" width="11.07" height="8.5" fill="#82badb"/>
<text transform="translate(63.9,276.6) rotate(-90)" text-anchor="end" font-size="5.75" fill="#333" word-spacing="0.7">250 - 300</text>
<rect x="67.65" y="264.7" width="11.07" height="8.5" fill="#59a1cf"/>
<text transform="translate(74.8,276.6) rotate(-90)" text-anchor="end" font-size="5.75" fill="#333" word-spacing="0.7">300 - 350</text>
<rect x="78.62" y="264.7" width="11.07" height="8.5" fill="#3787c0"/>
<text transform="translate(85.8,276.6) rotate(-90)" text-anchor="end" font-size="5.75" fill="#333" word-spacing="0.7">350 - 400</text>
<rect x="89.59" y="264.7" width="11.07" height="8.5" fill="#1c6aaf"/>
<text transform="translate(96.8,276.6) rotate(-90)" text-anchor="end" font-size="5.75" fill="#333" word-spacing="0.7">400 - 450</text>
<rect x="100.56" y="264.7" width="11.07" height="8.5" fill="#0b4d94"/>
<text transform="translate(107.7,276.6) rotate(-90)" text-anchor="end" font-size="5.75" fill="#333" word-spacing="0.7">450 - 500</text>
<rect x="111.53" y="264.7" width="11.07" height="8.5" fill="#08306b"/>
<text transform="translate(118.7,276.6) rotate(-90)" text-anchor="end" font-size="5.75" fill="#333" word-spacing="0.7">&gt; 500</text>
<rect x="18.5" y="315.7" width="95.2" height="3.1" fill="#fff" stroke="#111" stroke-width="0.5"/>
<rect x="18.5" y="315.7" width="23.8" height="3.1" fill="#111"/>
<rect x="66.1" y="315.7" width="23.8" height="3.1" fill="#111"/>
<text x="19.1" y="328.7" text-anchor="middle" font-size="7.4" fill="#111">0</text>
<text x="42.9" y="328.7" text-anchor="middle" font-size="7.4" fill="#111">8</text>
<text x="66.7" y="328.7" text-anchor="middle" font-size="7.4" fill="#111">16</text>
<text x="90.5" y="328.7" text-anchor="middle" font-size="7.4" fill="#111">24</text>
<text x="114.3" y="328.7" text-anchor="middle" font-size="7.4" fill="#111">32</text>
<text x="116.3" y="318.8" font-size="7.4" fill="#111">km</text>
<circle cx="177.3" cy="260.5" r="1.65" fill="#e00000" stroke="#5a0000" stroke-width="0.6"/>
<text x="191.6" y="264" font-size="9.45" fill="#111">Landslides</text>
<text x="191.6" y="278.9" font-size="9.45" fill="#111">Meteorological</text>
<text x="191.6" y="290.4" font-size="9.45" fill="#111">stations</text>
<text x="191.6" y="306" font-size="9.45" fill="#111">Displayed</text>
<text x="191.6" y="317" font-size="9.45" fill="#111">meteorological</text>
<text x="191.6" y="327.9" font-size="9.45" fill="#111">stations</text><path d="M174.1,278.1 L182.7,278.1 L178.4,285.5Z" fill="#dcdcdc" stroke="#8e8e8e" stroke-width="0.55" stroke-linejoin="round"/><path d="M174.9,278.8 L181.9,278.8 L178.4,284.4Z" fill="#c4c4c4"/><path d="M173.9,278.1 L182.9,278.1" stroke="#555" stroke-width="0.7" fill="none"/><path d="M176.5,279.0 L180.3,279.0 L178.4,282.2Z" fill="#000"/><path d="M174.1,310.0 L182.6,310.0 L178.3,317.3Z" fill="#cc08a6" stroke="#5a0046" stroke-width="0.4"/><path d="M176.3,311.1 L180.4,311.1 L178.3,314.3Z" fill="#0c0008"/>
</svg></body></html>
